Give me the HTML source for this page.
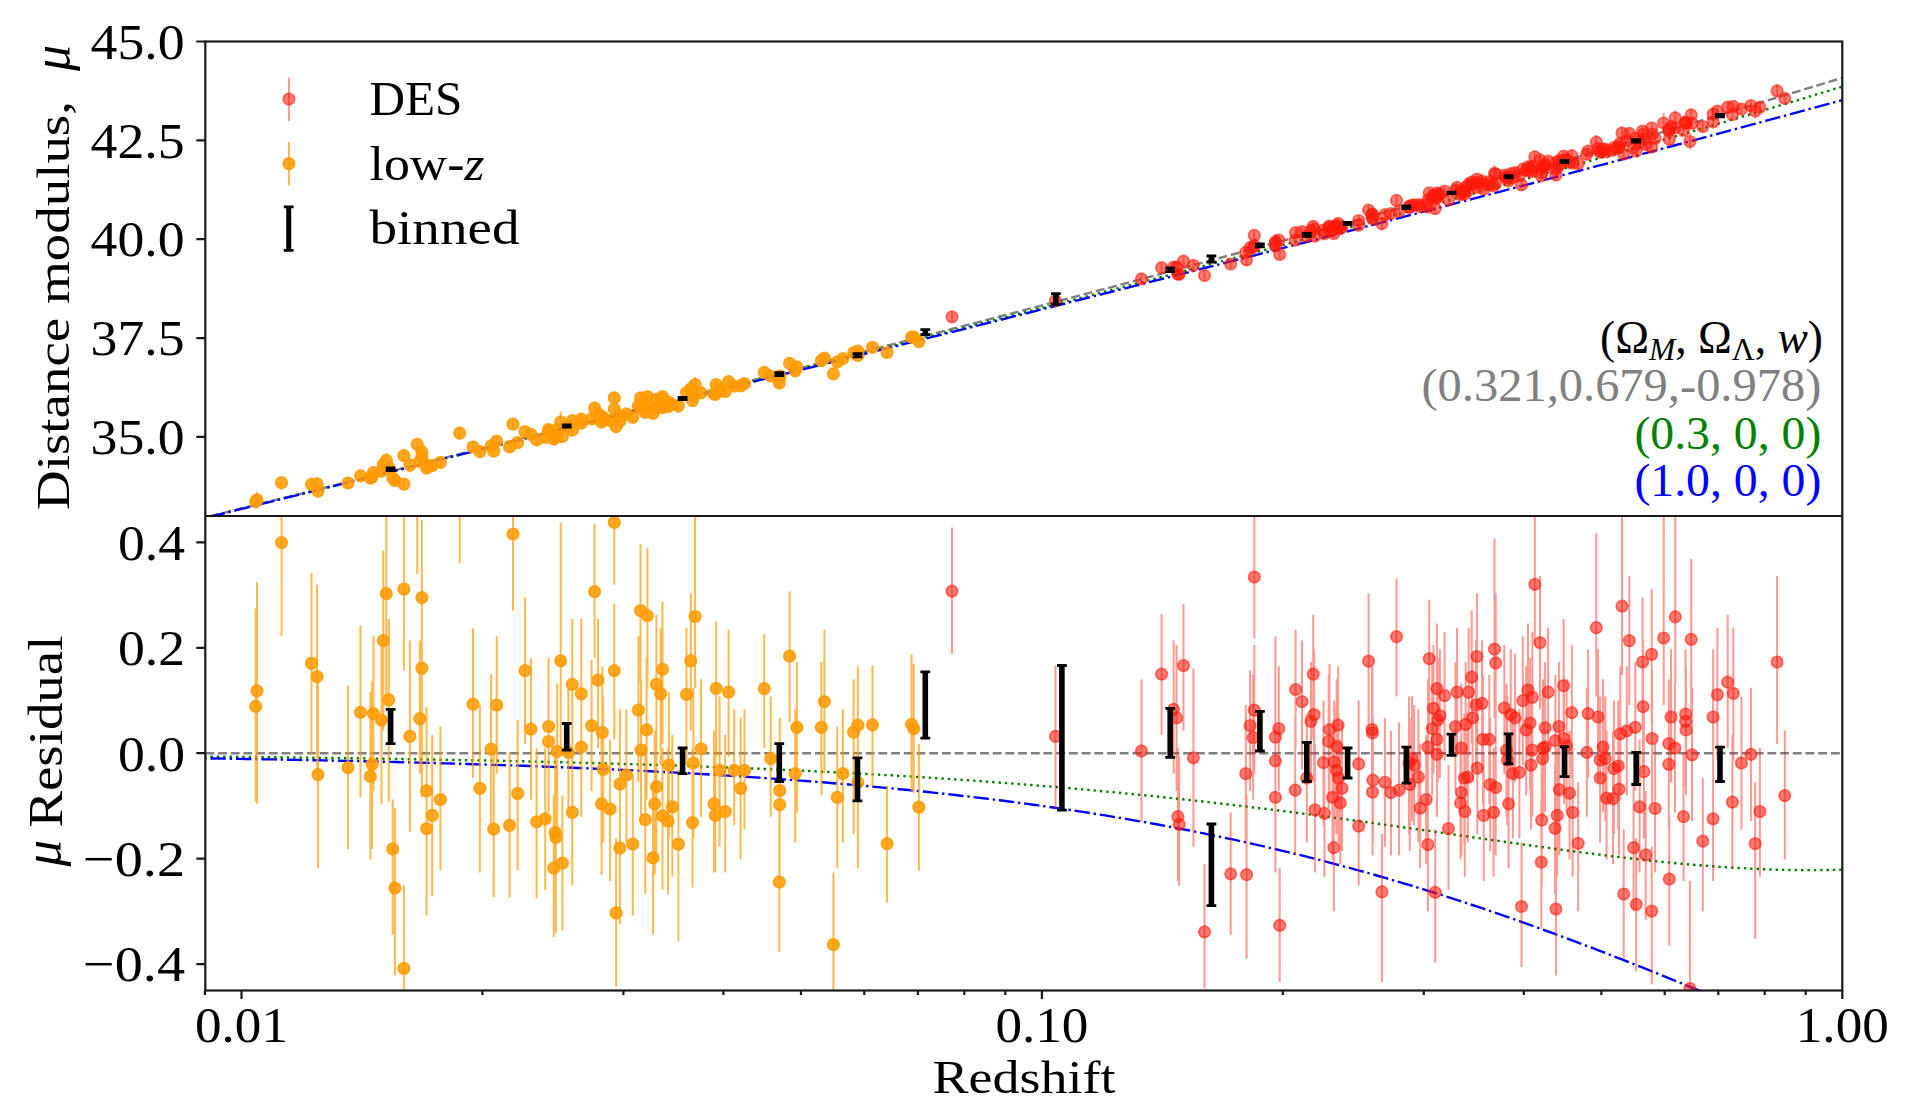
<!DOCTYPE html>
<html><head><meta charset="utf-8"><style>
html,body{margin:0;padding:0;background:#fff;width:1916px;height:1104px;overflow:hidden}
svg{display:block}
</style></head><body>
<svg width="1916" height="1104" viewBox="0 0 1916 1104">
<rect width="1916" height="1104" fill="#fff"/>
<defs><clipPath id="ct"><rect x="205.3" y="41.5" width="1637.0" height="474.5"/></clipPath><clipPath id="cb"><rect x="205.3" y="516.0" width="1637.0" height="474.5"/></clipPath></defs>
<g clip-path="url(#ct)">
<path d="M185.0,522.5 L190.5,521.1 L196.1,519.8 L201.6,518.4 L207.2,517.0 L212.7,515.6 L218.3,514.3 L223.8,512.9 L229.3,511.5 L234.9,510.1 L240.4,508.7 L246.0,507.4 L251.5,506.0 L257.1,504.6 L262.6,503.2 L268.1,501.8 L273.7,500.5 L279.2,499.1 L284.8,497.7 L290.3,496.3 L295.9,494.9 L301.4,493.6 L306.9,492.2 L312.5,490.8 L318.0,489.4 L323.6,488.0 L329.1,486.7 L334.7,485.3 L340.2,483.9 L345.7,482.5 L351.3,481.1 L356.8,479.7 L362.4,478.4 L367.9,477.0 L373.5,475.6 L379.0,474.2 L384.5,472.8 L390.1,471.4 L395.6,470.1 L401.2,468.7 L406.7,467.3 L412.3,465.9 L417.8,464.5 L423.3,463.1 L428.9,461.7 L434.4,460.4 L440.0,459.0 L445.5,457.6 L451.1,456.2 L456.6,454.8 L462.1,453.4 L467.7,452.0 L473.2,450.6 L478.8,449.3 L484.3,447.9 L489.9,446.5 L495.4,445.1 L500.9,443.7 L506.5,442.3 L512.0,440.9 L517.6,439.5 L523.1,438.1 L528.7,436.7 L534.2,435.3 L539.7,434.0 L545.3,432.6 L550.8,431.2 L556.4,429.8 L561.9,428.4 L567.5,427.0 L573.0,425.6 L578.5,424.2 L584.1,422.8 L589.6,421.4 L595.2,420.0 L600.7,418.6 L606.3,417.2 L611.8,415.8 L617.3,414.4 L622.9,413.0 L628.4,411.6 L634.0,410.2 L639.5,408.8 L645.1,407.4 L650.6,406.0 L656.1,404.6 L661.7,403.2 L667.2,401.8 L672.8,400.4 L678.3,399.0 L683.9,397.6 L689.4,396.2 L694.9,394.8 L700.5,393.4 L706.0,392.0 L711.6,390.6 L717.1,389.2 L722.7,387.8 L728.2,386.4 L733.7,385.0 L739.3,383.5 L744.8,382.1 L750.4,380.7 L755.9,379.3 L761.5,377.9 L767.0,376.5 L772.5,375.1 L778.1,373.7 L783.6,372.3 L789.2,370.8 L794.7,369.4 L800.3,368.0 L805.8,366.6 L811.3,365.2 L816.9,363.8 L822.4,362.3 L828.0,360.9 L833.5,359.5 L839.1,358.1 L844.6,356.6 L850.1,355.2 L855.7,353.8 L861.2,352.4 L866.8,351.0 L872.3,349.5 L877.9,348.1 L883.4,346.7 L888.9,345.2 L894.5,343.8 L900.0,342.4 L905.6,341.0 L911.1,339.5 L916.7,338.1 L922.2,336.7 L927.7,335.2 L933.3,333.8 L938.8,332.3 L944.4,330.9 L949.9,329.5 L955.5,328.0 L961.0,326.6 L966.5,325.1 L972.1,323.7 L977.6,322.3 L983.2,320.8 L988.7,319.4 L994.3,317.9 L999.8,316.5 L1005.3,315.0 L1010.9,313.6 L1016.4,312.1 L1022.0,310.7 L1027.5,309.2 L1033.1,307.8 L1038.6,306.3 L1044.1,304.8 L1049.7,303.4 L1055.2,301.9 L1060.8,300.5 L1066.3,299.0 L1071.9,297.5 L1077.4,296.1 L1082.9,294.6 L1088.5,293.1 L1094.0,291.7 L1099.6,290.2 L1105.1,288.7 L1110.7,287.3 L1116.2,285.8 L1121.7,284.3 L1127.3,282.8 L1132.8,281.4 L1138.4,279.9 L1143.9,278.4 L1149.5,276.9 L1155.0,275.4 L1160.5,273.9 L1166.1,272.4 L1171.6,271.0 L1177.2,269.5 L1182.7,268.0 L1188.3,266.5 L1193.8,265.0 L1199.3,263.5 L1204.9,262.0 L1210.4,260.5 L1216.0,259.0 L1221.5,257.5 L1227.1,256.0 L1232.6,254.5 L1238.1,253.0 L1243.7,251.5 L1249.2,249.9 L1254.8,248.4 L1260.3,246.9 L1265.9,245.4 L1271.4,243.9 L1276.9,242.4 L1282.5,240.8 L1288.0,239.3 L1293.6,237.8 L1299.1,236.3 L1304.6,234.7 L1310.2,233.2 L1315.7,231.7 L1321.3,230.1 L1326.8,228.6 L1332.4,227.1 L1337.9,225.5 L1343.4,224.0 L1349.0,222.4 L1354.5,220.9 L1360.1,219.3 L1365.6,217.8 L1371.2,216.2 L1376.7,214.7 L1382.2,213.1 L1387.8,211.6 L1393.3,210.0 L1398.9,208.5 L1404.4,206.9 L1410.0,205.3 L1415.5,203.8 L1421.0,202.2 L1426.6,200.6 L1432.1,199.0 L1437.7,197.5 L1443.2,195.9 L1448.8,194.3 L1454.3,192.7 L1459.8,191.1 L1465.4,189.6 L1470.9,188.0 L1476.5,186.4 L1482.0,184.8 L1487.6,183.2 L1493.1,181.6 L1498.6,180.0 L1504.2,178.4 L1509.7,176.8 L1515.3,175.2 L1520.8,173.6 L1526.4,172.0 L1531.9,170.4 L1537.4,168.8 L1543.0,167.2 L1548.5,165.6 L1554.1,163.9 L1559.6,162.3 L1565.2,160.7 L1570.7,159.1 L1576.2,157.5 L1581.8,155.8 L1587.3,154.2 L1592.9,152.6 L1598.4,150.9 L1604.0,149.3 L1609.5,147.7 L1615.0,146.0 L1620.6,144.4 L1626.1,142.8 L1631.7,141.1 L1637.2,139.5 L1642.8,137.8 L1648.3,136.2 L1653.8,134.6 L1659.4,132.9 L1664.9,131.3 L1670.5,129.6 L1676.0,128.0 L1681.6,126.3 L1687.1,124.6 L1692.6,123.0 L1698.2,121.3 L1703.7,119.7 L1709.3,118.0 L1714.8,116.3 L1720.4,114.7 L1725.9,113.0 L1731.4,111.4 L1737.0,109.7 L1742.5,108.0 L1748.1,106.4 L1753.6,104.7 L1759.2,103.0 L1764.7,101.3 L1770.2,99.7 L1775.8,98.0 L1781.3,96.3 L1786.9,94.7 L1792.4,93.0 L1798.0,91.3 L1803.5,89.6 L1809.0,87.9 L1814.6,86.3 L1820.1,84.6 L1825.7,82.9 L1831.2,81.2 L1836.8,79.5 L1842.3,77.9" stroke="#808080" stroke-width="2.4" fill="none" stroke-dasharray="8.9 3.8"/>
<path d="M185.0,522.8 L190.5,521.4 L196.1,520.0 L201.6,518.6 L207.2,517.3 L212.7,515.9 L218.3,514.5 L223.8,513.1 L229.3,511.8 L234.9,510.4 L240.4,509.0 L246.0,507.6 L251.5,506.3 L257.1,504.9 L262.6,503.5 L268.1,502.1 L273.7,500.8 L279.2,499.4 L284.8,498.0 L290.3,496.6 L295.9,495.3 L301.4,493.9 L306.9,492.5 L312.5,491.1 L318.0,489.8 L323.6,488.4 L329.1,487.0 L334.7,485.6 L340.2,484.2 L345.7,482.9 L351.3,481.5 L356.8,480.1 L362.4,478.7 L367.9,477.4 L373.5,476.0 L379.0,474.6 L384.5,473.2 L390.1,471.9 L395.6,470.5 L401.2,469.1 L406.7,467.7 L412.3,466.3 L417.8,465.0 L423.3,463.6 L428.9,462.2 L434.4,460.8 L440.0,459.4 L445.5,458.1 L451.1,456.7 L456.6,455.3 L462.1,453.9 L467.7,452.5 L473.2,451.2 L478.8,449.8 L484.3,448.4 L489.9,447.0 L495.4,445.6 L500.9,444.3 L506.5,442.9 L512.0,441.5 L517.6,440.1 L523.1,438.7 L528.7,437.4 L534.2,436.0 L539.7,434.6 L545.3,433.2 L550.8,431.8 L556.4,430.4 L561.9,429.1 L567.5,427.7 L573.0,426.3 L578.5,424.9 L584.1,423.5 L589.6,422.1 L595.2,420.8 L600.7,419.4 L606.3,418.0 L611.8,416.6 L617.3,415.2 L622.9,413.8 L628.4,412.4 L634.0,411.1 L639.5,409.7 L645.1,408.3 L650.6,406.9 L656.1,405.5 L661.7,404.1 L667.2,402.7 L672.8,401.3 L678.3,399.9 L683.9,398.6 L689.4,397.2 L694.9,395.8 L700.5,394.4 L706.0,393.0 L711.6,391.6 L717.1,390.2 L722.7,388.8 L728.2,387.4 L733.7,386.0 L739.3,384.6 L744.8,383.3 L750.4,381.9 L755.9,380.5 L761.5,379.1 L767.0,377.7 L772.5,376.3 L778.1,374.9 L783.6,373.5 L789.2,372.1 L794.7,370.7 L800.3,369.3 L805.8,367.9 L811.3,366.5 L816.9,365.1 L822.4,363.7 L828.0,362.3 L833.5,360.9 L839.1,359.5 L844.6,358.1 L850.1,356.7 L855.7,355.3 L861.2,353.9 L866.8,352.5 L872.3,351.1 L877.9,349.7 L883.4,348.3 L888.9,346.9 L894.5,345.5 L900.0,344.1 L905.6,342.7 L911.1,341.3 L916.7,339.9 L922.2,338.5 L927.7,337.0 L933.3,335.6 L938.8,334.2 L944.4,332.8 L949.9,331.4 L955.5,330.0 L961.0,328.6 L966.5,327.2 L972.1,325.8 L977.6,324.3 L983.2,322.9 L988.7,321.5 L994.3,320.1 L999.8,318.7 L1005.3,317.3 L1010.9,315.8 L1016.4,314.4 L1022.0,313.0 L1027.5,311.6 L1033.1,310.2 L1038.6,308.7 L1044.1,307.3 L1049.7,305.9 L1055.2,304.5 L1060.8,303.0 L1066.3,301.6 L1071.9,300.2 L1077.4,298.8 L1082.9,297.3 L1088.5,295.9 L1094.0,294.5 L1099.6,293.0 L1105.1,291.6 L1110.7,290.2 L1116.2,288.7 L1121.7,287.3 L1127.3,285.9 L1132.8,284.4 L1138.4,283.0 L1143.9,281.5 L1149.5,280.1 L1155.0,278.7 L1160.5,277.2 L1166.1,275.8 L1171.6,274.3 L1177.2,272.9 L1182.7,271.4 L1188.3,270.0 L1193.8,268.5 L1199.3,267.1 L1204.9,265.6 L1210.4,264.2 L1216.0,262.7 L1221.5,261.3 L1227.1,259.8 L1232.6,258.4 L1238.1,256.9 L1243.7,255.4 L1249.2,254.0 L1254.8,252.5 L1260.3,251.0 L1265.9,249.6 L1271.4,248.1 L1276.9,246.6 L1282.5,245.2 L1288.0,243.7 L1293.6,242.2 L1299.1,240.8 L1304.6,239.3 L1310.2,237.8 L1315.7,236.3 L1321.3,234.8 L1326.8,233.4 L1332.4,231.9 L1337.9,230.4 L1343.4,228.9 L1349.0,227.4 L1354.5,225.9 L1360.1,224.4 L1365.6,223.0 L1371.2,221.5 L1376.7,220.0 L1382.2,218.5 L1387.8,217.0 L1393.3,215.5 L1398.9,214.0 L1404.4,212.5 L1410.0,210.9 L1415.5,209.4 L1421.0,207.9 L1426.6,206.4 L1432.1,204.9 L1437.7,203.4 L1443.2,201.9 L1448.8,200.4 L1454.3,198.8 L1459.8,197.3 L1465.4,195.8 L1470.9,194.3 L1476.5,192.7 L1482.0,191.2 L1487.6,189.7 L1493.1,188.1 L1498.6,186.6 L1504.2,185.1 L1509.7,183.5 L1515.3,182.0 L1520.8,180.4 L1526.4,178.9 L1531.9,177.3 L1537.4,175.8 L1543.0,174.2 L1548.5,172.7 L1554.1,171.1 L1559.6,169.5 L1565.2,168.0 L1570.7,166.4 L1576.2,164.8 L1581.8,163.3 L1587.3,161.7 L1592.9,160.1 L1598.4,158.5 L1604.0,157.0 L1609.5,155.4 L1615.0,153.8 L1620.6,152.2 L1626.1,150.6 L1631.7,149.0 L1637.2,147.4 L1642.8,145.8 L1648.3,144.2 L1653.8,142.6 L1659.4,141.0 L1664.9,139.4 L1670.5,137.8 L1676.0,136.2 L1681.6,134.6 L1687.1,133.0 L1692.6,131.3 L1698.2,129.7 L1703.7,128.1 L1709.3,126.5 L1714.8,124.8 L1720.4,123.2 L1725.9,121.6 L1731.4,119.9 L1737.0,118.3 L1742.5,116.6 L1748.1,115.0 L1753.6,113.4 L1759.2,111.7 L1764.7,110.0 L1770.2,108.4 L1775.8,106.7 L1781.3,105.1 L1786.9,103.4 L1792.4,101.7 L1798.0,100.1 L1803.5,98.4 L1809.0,96.7 L1814.6,95.0 L1820.1,93.3 L1825.7,91.7 L1831.2,90.0 L1836.8,88.3 L1842.3,86.6" stroke="#008000" stroke-width="2.4" fill="none" stroke-dasharray="2.4 3.96"/>
<path d="M185.0,522.9 L190.5,521.5 L196.1,520.1 L201.6,518.8 L207.2,517.4 L212.7,516.0 L218.3,514.7 L223.8,513.3 L229.3,511.9 L234.9,510.5 L240.4,509.2 L246.0,507.8 L251.5,506.4 L257.1,505.0 L262.6,503.7 L268.1,502.3 L273.7,500.9 L279.2,499.6 L284.8,498.2 L290.3,496.8 L295.9,495.4 L301.4,494.1 L306.9,492.7 L312.5,491.3 L318.0,489.9 L323.6,488.6 L329.1,487.2 L334.7,485.8 L340.2,484.4 L345.7,483.1 L351.3,481.7 L356.8,480.3 L362.4,479.0 L367.9,477.6 L373.5,476.2 L379.0,474.8 L384.5,473.5 L390.1,472.1 L395.6,470.7 L401.2,469.3 L406.7,468.0 L412.3,466.6 L417.8,465.2 L423.3,463.8 L428.9,462.5 L434.4,461.1 L440.0,459.7 L445.5,458.3 L451.1,457.0 L456.6,455.6 L462.1,454.2 L467.7,452.8 L473.2,451.5 L478.8,450.1 L484.3,448.7 L489.9,447.3 L495.4,446.0 L500.9,444.6 L506.5,443.2 L512.0,441.8 L517.6,440.5 L523.1,439.1 L528.7,437.7 L534.2,436.3 L539.7,434.9 L545.3,433.6 L550.8,432.2 L556.4,430.8 L561.9,429.4 L567.5,428.1 L573.0,426.7 L578.5,425.3 L584.1,423.9 L589.6,422.5 L595.2,421.2 L600.7,419.8 L606.3,418.4 L611.8,417.0 L617.3,415.7 L622.9,414.3 L628.4,412.9 L634.0,411.5 L639.5,410.1 L645.1,408.8 L650.6,407.4 L656.1,406.0 L661.7,404.6 L667.2,403.2 L672.8,401.9 L678.3,400.5 L683.9,399.1 L689.4,397.7 L694.9,396.3 L700.5,395.0 L706.0,393.6 L711.6,392.2 L717.1,390.8 L722.7,389.4 L728.2,388.0 L733.7,386.7 L739.3,385.3 L744.8,383.9 L750.4,382.5 L755.9,381.1 L761.5,379.7 L767.0,378.4 L772.5,377.0 L778.1,375.6 L783.6,374.2 L789.2,372.8 L794.7,371.4 L800.3,370.1 L805.8,368.7 L811.3,367.3 L816.9,365.9 L822.4,364.5 L828.0,363.1 L833.5,361.7 L839.1,360.4 L844.6,359.0 L850.1,357.6 L855.7,356.2 L861.2,354.8 L866.8,353.4 L872.3,352.0 L877.9,350.6 L883.4,349.2 L888.9,347.9 L894.5,346.5 L900.0,345.1 L905.6,343.7 L911.1,342.3 L916.7,340.9 L922.2,339.5 L927.7,338.1 L933.3,336.7 L938.8,335.3 L944.4,333.9 L949.9,332.6 L955.5,331.2 L961.0,329.8 L966.5,328.4 L972.1,327.0 L977.6,325.6 L983.2,324.2 L988.7,322.8 L994.3,321.4 L999.8,320.0 L1005.3,318.6 L1010.9,317.2 L1016.4,315.8 L1022.0,314.4 L1027.5,313.0 L1033.1,311.6 L1038.6,310.2 L1044.1,308.8 L1049.7,307.4 L1055.2,306.0 L1060.8,304.6 L1066.3,303.2 L1071.9,301.8 L1077.4,300.4 L1082.9,299.0 L1088.5,297.6 L1094.0,296.2 L1099.6,294.8 L1105.1,293.4 L1110.7,292.0 L1116.2,290.6 L1121.7,289.2 L1127.3,287.8 L1132.8,286.4 L1138.4,285.0 L1143.9,283.5 L1149.5,282.1 L1155.0,280.7 L1160.5,279.3 L1166.1,277.9 L1171.6,276.5 L1177.2,275.1 L1182.7,273.7 L1188.3,272.3 L1193.8,270.9 L1199.3,269.4 L1204.9,268.0 L1210.4,266.6 L1216.0,265.2 L1221.5,263.8 L1227.1,262.4 L1232.6,260.9 L1238.1,259.5 L1243.7,258.1 L1249.2,256.7 L1254.8,255.3 L1260.3,253.8 L1265.9,252.4 L1271.4,251.0 L1276.9,249.6 L1282.5,248.2 L1288.0,246.7 L1293.6,245.3 L1299.1,243.9 L1304.6,242.5 L1310.2,241.0 L1315.7,239.6 L1321.3,238.2 L1326.8,236.7 L1332.4,235.3 L1337.9,233.9 L1343.4,232.5 L1349.0,231.0 L1354.5,229.6 L1360.1,228.2 L1365.6,226.7 L1371.2,225.3 L1376.7,223.9 L1382.2,222.4 L1387.8,221.0 L1393.3,219.5 L1398.9,218.1 L1404.4,216.7 L1410.0,215.2 L1415.5,213.8 L1421.0,212.3 L1426.6,210.9 L1432.1,209.5 L1437.7,208.0 L1443.2,206.6 L1448.8,205.1 L1454.3,203.7 L1459.8,202.2 L1465.4,200.8 L1470.9,199.3 L1476.5,197.9 L1482.0,196.4 L1487.6,195.0 L1493.1,193.5 L1498.6,192.1 L1504.2,190.6 L1509.7,189.1 L1515.3,187.7 L1520.8,186.2 L1526.4,184.8 L1531.9,183.3 L1537.4,181.9 L1543.0,180.4 L1548.5,178.9 L1554.1,177.5 L1559.6,176.0 L1565.2,174.5 L1570.7,173.1 L1576.2,171.6 L1581.8,170.1 L1587.3,168.7 L1592.9,167.2 L1598.4,165.7 L1604.0,164.3 L1609.5,162.8 L1615.0,161.3 L1620.6,159.8 L1626.1,158.4 L1631.7,156.9 L1637.2,155.4 L1642.8,153.9 L1648.3,152.4 L1653.8,151.0 L1659.4,149.5 L1664.9,148.0 L1670.5,146.5 L1676.0,145.0 L1681.6,143.6 L1687.1,142.1 L1692.6,140.6 L1698.2,139.1 L1703.7,137.6 L1709.3,136.1 L1714.8,134.6 L1720.4,133.1 L1725.9,131.6 L1731.4,130.1 L1737.0,128.7 L1742.5,127.2 L1748.1,125.7 L1753.6,124.2 L1759.2,122.7 L1764.7,121.2 L1770.2,119.7 L1775.8,118.2 L1781.3,116.7 L1786.9,115.2 L1792.4,113.7 L1798.0,112.2 L1803.5,110.7 L1809.0,109.2 L1814.6,107.6 L1820.1,106.1 L1825.7,104.6 L1831.2,103.1 L1836.8,101.6 L1842.3,100.1" stroke="#0000ff" stroke-width="2.4" fill="none" stroke-dasharray="15.4 3.84 2.4 3.84"/>
<path d="M281.5,480.7V489.8M257.0,491.8V508.4M255.7,494.1V508.6M311.5,477.5V491.1M317.1,477.0V491.2M318.0,484.0V498.1M348.0,476.9V489.1M360.5,469.2V482.1M373.4,466.8V478.4M372.1,470.5V483.1M370.4,471.8V484.3M381.5,465.1V477.4M383.3,457.9V471.5M386.3,453.0V468.4M388.8,461.7V475.4M392.7,474.2V484.4M394.9,474.4V486.9M403.9,477.9V490.5M403.9,449.6V461.8M421.9,446.0V458.6M421.9,455.0V466.8M419.8,455.6V465.6M409.9,458.0V472.4M426.6,458.8V471.4M432.2,459.5V471.6M426.6,461.9V474.5M440.4,456.9V467.6M473.0,441.3V452.5M479.9,445.3V457.9M491.1,440.2V452.2M496.7,436.0V446.3M493.7,445.1V456.3M509.6,441.5V452.3M517.7,437.0V448.3M513.0,418.0V430.0M459.7,426.6V439.8M417.2,438.8V451.2M525.0,426.0V436.9M614.3,392.6V402.5M594.6,402.9V413.0M560.7,411.4V428.3M531.0,429.0V439.6M548.6,424.6V434.5M548.6,425.5V436.2M572.3,415.7V426.0M581.3,413.4V424.7M598.0,409.2V418.9M591.6,413.9V423.7M614.3,404.0V414.1M602.3,411.7V422.6M581.3,418.0V428.3M557.2,424.3V435.3M568.4,421.8V431.2M536.6,434.3V445.6M545.2,432.2V442.8M555.1,430.4V441.3M555.9,430.8V443.3M553.8,433.6V444.2M562.4,431.4V441.6M572.3,424.7V435.7M603.2,413.7V424.7M601.5,417.1V427.5M610.1,415.2V425.9M619.9,410.5V421.7M626.4,408.8V418.8M619.9,415.3V426.6M616.1,421.1V432.2M632.8,412.1V422.7M638.4,400.3V411.3M640.5,392.9V403.3M647.4,391.5V401.9M646.6,399.9V410.5M641.0,402.9V413.9M656.4,394.2V404.8M660.7,394.0V404.4M662.5,391.7V402.3M656.4,401.6V412.5M654.7,403.3V414.1M645.3,406.7V417.9M662.5,402.6V413.3M668.0,401.2V412.2M672.3,399.2V409.8M653.0,407.6V419.0M678.4,400.2V413.1M668.9,396.8V407.8M686.5,387.5V397.8M690.8,383.9V394.2M695.1,377.0V389.9M693.4,390.3V401.6M701.1,387.7V398.0M692.5,395.0V405.5M716.2,379.5V389.7M728.6,377.0V386.5M719.6,384.3V395.6M714.0,388.3V398.9M715.3,388.6V398.6M725.2,385.8V396.1M734.2,381.5V390.2M744.5,378.9V387.9M740.6,380.6V391.2M764.3,368.3V376.8M770.7,371.3V380.3M789.6,358.6V368.4M796.9,362.0V373.3M795.2,366.0V376.0M779.7,370.6V381.9M779.7,371.9V382.8M779.3,377.5V388.3M824.4,352.6V363.4M821.4,355.8V365.7M837.3,356.5V367.1M833.4,368.5V378.8M842.9,353.8V363.8M857.9,346.7V361.9M853.6,348.8V360.4M872.5,342.9V352.0M911.6,332.0V342.2M913.7,332.2V341.8M918.9,336.8V346.3M887.1,348.2V356.9M857.9,348.8V361.9" stroke="#ff9a00" stroke-opacity="0.7" stroke-width="2.0" fill="none"/>
<g fill="#ff9a00" fill-opacity="0.85" stroke="#ff9a00" stroke-opacity="0.85" stroke-width="1.6"><circle cx="281.5" cy="482.7" r="5.8"/><circle cx="257.0" cy="499.9" r="5.8"/><circle cx="255.7" cy="501.4" r="5.8"/><circle cx="311.5" cy="484.3" r="5.8"/><circle cx="317.1" cy="483.9" r="5.8"/><circle cx="318.0" cy="491.0" r="5.8"/><circle cx="348.0" cy="483.0" r="5.8"/><circle cx="360.5" cy="475.8" r="5.8"/><circle cx="373.4" cy="472.6" r="5.8"/><circle cx="372.1" cy="476.8" r="5.8"/><circle cx="370.4" cy="478.1" r="5.8"/><circle cx="381.5" cy="471.1" r="5.8"/><circle cx="383.3" cy="464.7" r="5.8"/><circle cx="386.3" cy="460.4" r="5.8"/><circle cx="388.8" cy="467.7" r="5.8"/><circle cx="392.7" cy="478.0" r="5.8"/><circle cx="394.9" cy="480.3" r="5.8"/><circle cx="403.9" cy="484.1" r="5.8"/><circle cx="403.9" cy="455.7" r="5.8"/><circle cx="421.9" cy="451.8" r="5.8"/><circle cx="421.9" cy="457.1" r="5.8"/><circle cx="419.8" cy="461.4" r="5.8"/><circle cx="409.9" cy="465.2" r="5.8"/><circle cx="426.6" cy="465.1" r="5.8"/><circle cx="432.2" cy="465.6" r="5.8"/><circle cx="426.6" cy="468.0" r="5.8"/><circle cx="440.4" cy="462.3" r="5.8"/><circle cx="473.0" cy="447.0" r="5.8"/><circle cx="479.9" cy="451.6" r="5.8"/><circle cx="491.1" cy="445.9" r="5.8"/><circle cx="496.7" cy="441.1" r="5.8"/><circle cx="493.7" cy="451.2" r="5.8"/><circle cx="509.6" cy="446.9" r="5.8"/><circle cx="517.7" cy="442.5" r="5.8"/><circle cx="513.0" cy="424.2" r="5.8"/><circle cx="459.7" cy="433.0" r="5.8"/><circle cx="417.2" cy="444.3" r="5.8"/><circle cx="525.0" cy="431.5" r="5.8"/><circle cx="614.3" cy="397.9" r="5.8"/><circle cx="594.6" cy="408.0" r="5.8"/><circle cx="560.7" cy="421.8" r="5.8"/><circle cx="531.0" cy="434.3" r="5.8"/><circle cx="548.6" cy="429.7" r="5.8"/><circle cx="548.6" cy="430.8" r="5.8"/><circle cx="572.3" cy="420.6" r="5.8"/><circle cx="581.3" cy="419.1" r="5.8"/><circle cx="598.0" cy="413.8" r="5.8"/><circle cx="591.6" cy="418.8" r="5.8"/><circle cx="614.3" cy="409.0" r="5.8"/><circle cx="602.3" cy="416.7" r="5.8"/><circle cx="581.3" cy="423.1" r="5.8"/><circle cx="557.2" cy="429.4" r="5.8"/><circle cx="568.4" cy="426.7" r="5.8"/><circle cx="536.6" cy="439.9" r="5.8"/><circle cx="545.2" cy="437.5" r="5.8"/><circle cx="555.1" cy="436.1" r="5.8"/><circle cx="555.9" cy="436.2" r="5.8"/><circle cx="553.8" cy="439.1" r="5.8"/><circle cx="562.4" cy="436.5" r="5.8"/><circle cx="572.3" cy="430.2" r="5.8"/><circle cx="603.2" cy="419.2" r="5.8"/><circle cx="601.5" cy="422.2" r="5.8"/><circle cx="610.1" cy="420.4" r="5.8"/><circle cx="619.9" cy="416.1" r="5.8"/><circle cx="626.4" cy="413.8" r="5.8"/><circle cx="619.9" cy="420.9" r="5.8"/><circle cx="616.1" cy="426.7" r="5.8"/><circle cx="632.8" cy="417.3" r="5.8"/><circle cx="638.4" cy="405.9" r="5.8"/><circle cx="640.5" cy="397.9" r="5.8"/><circle cx="647.4" cy="396.5" r="5.8"/><circle cx="646.6" cy="405.3" r="5.8"/><circle cx="641.0" cy="408.2" r="5.8"/><circle cx="656.4" cy="399.4" r="5.8"/><circle cx="660.7" cy="399.0" r="5.8"/><circle cx="662.5" cy="396.7" r="5.8"/><circle cx="656.4" cy="407.1" r="5.8"/><circle cx="654.7" cy="408.8" r="5.8"/><circle cx="645.3" cy="412.4" r="5.8"/><circle cx="662.5" cy="407.7" r="5.8"/><circle cx="668.0" cy="406.7" r="5.8"/><circle cx="672.3" cy="404.5" r="5.8"/><circle cx="653.0" cy="413.3" r="5.8"/><circle cx="678.4" cy="405.8" r="5.8"/><circle cx="668.9" cy="402.3" r="5.8"/><circle cx="686.5" cy="392.5" r="5.8"/><circle cx="690.8" cy="388.9" r="5.8"/><circle cx="695.1" cy="384.5" r="5.8"/><circle cx="693.4" cy="395.9" r="5.8"/><circle cx="701.1" cy="392.9" r="5.8"/><circle cx="692.5" cy="400.6" r="5.8"/><circle cx="716.2" cy="384.5" r="5.8"/><circle cx="728.6" cy="381.7" r="5.8"/><circle cx="719.6" cy="389.8" r="5.8"/><circle cx="714.0" cy="393.8" r="5.8"/><circle cx="715.3" cy="394.3" r="5.8"/><circle cx="725.2" cy="391.5" r="5.8"/><circle cx="734.2" cy="386.1" r="5.8"/><circle cx="744.5" cy="383.5" r="5.8"/><circle cx="740.6" cy="385.8" r="5.8"/><circle cx="764.3" cy="372.3" r="5.8"/><circle cx="770.7" cy="376.0" r="5.8"/><circle cx="789.6" cy="363.4" r="5.8"/><circle cx="796.9" cy="366.9" r="5.8"/><circle cx="795.2" cy="370.8" r="5.8"/><circle cx="779.7" cy="376.0" r="5.8"/><circle cx="779.7" cy="377.1" r="5.8"/><circle cx="779.3" cy="383.0" r="5.8"/><circle cx="824.4" cy="358.0" r="5.8"/><circle cx="821.4" cy="360.7" r="5.8"/><circle cx="837.3" cy="361.8" r="5.8"/><circle cx="833.4" cy="373.9" r="5.8"/><circle cx="842.9" cy="358.6" r="5.8"/><circle cx="857.9" cy="351.1" r="5.8"/><circle cx="853.6" cy="352.8" r="5.8"/><circle cx="872.5" cy="347.3" r="5.8"/><circle cx="911.6" cy="337.2" r="5.8"/><circle cx="913.7" cy="337.0" r="5.8"/><circle cx="918.9" cy="341.6" r="5.8"/><circle cx="887.1" cy="352.5" r="5.8"/><circle cx="857.9" cy="355.4" r="5.8"/></g>

<path d="M952.0,312.0V321.5M1055.5,295.3V306.0M1141.4,273.5V284.2M1161.6,263.2V272.3M1183.5,256.6V266.1M1173.6,262.0V272.0M1176.6,261.5V272.4M1193.4,258.8V272.1M1177.9,268.9V278.9M1179.2,269.2V278.8M1204.5,270.4V279.7M1230.7,259.4V268.6M1246.6,253.8V266.0M1254.3,230.8V239.9M1254.3,240.4V250.1M1250.1,243.5V252.5M1253.1,243.0V252.4M1245.8,247.3V257.6M1279.7,250.2V258.8M1275.4,234.0V248.2M1278.8,235.3V244.7M1275.4,238.5V248.2M1275.4,240.5V251.7M1295.2,234.7V245.0M1295.6,228.0V236.8M1302.0,227.0V236.7M1313.2,222.0V231.3M1311.0,226.1V235.1M1314.1,224.3V234.3M1306.8,231.2V240.8M1314.9,231.2V240.8M1324.4,228.9V238.6M1323.5,225.6V234.9M1328.7,222.2V232.2M1329.5,221.2V231.0M1338.1,218.9V228.3M1336.8,220.3V230.6M1334.2,222.6V231.9M1336.4,222.6V232.0M1338.5,222.4V232.0M1342.0,222.1V231.7M1332.5,225.7V235.0M1340.3,223.8V233.2M1333.8,228.8V238.5M1358.7,215.8V225.4M1358.7,220.3V229.6M1368.6,205.0V215.3M1372.5,209.4V219.3M1372.0,209.5V218.8M1372.9,213.1V222.4M1372.5,214.2V223.5M1381.9,219.3V230.4M1384.9,209.7V219.4M1390.9,209.0V218.3M1399.1,206.1V216.0M1396.5,196.0V204.9M1409.0,201.3V211.6M1412.0,200.5V209.8M1414.1,200.5V209.5M1409.8,202.7V212.7M1418.4,199.6V209.6M1426.2,199.4V209.0M1420.2,201.7V211.1M1427.9,202.4V212.1M1429.2,188.4V197.6M1427.9,194.7V204.7M1432.2,192.2V202.2M1433.5,190.5V200.2M1436.9,187.9V197.9M1439.9,189.0V198.7M1437.8,190.3V199.6M1436.9,192.5V201.5M1436.9,192.8V202.4M1444.6,186.4V196.1M1448.5,195.3V204.6M1435.2,203.9V213.9M1457.1,182.5V192.2M1455.4,185.6V195.3M1461.4,185.5V195.5M1464.4,186.9V196.5M1467.8,185.9V195.6M1461.4,189.0V198.4M1460.5,189.9V198.9M1464.8,189.3V199.0M1468.7,179.2V188.9M1471.7,177.1V187.0M1472.6,180.0V189.7M1465.7,182.6V192.3M1476.0,178.1V187.7M1476.9,174.3V183.9M1482.0,176.3V186.0M1477.3,182.5V192.2M1482.9,178.7V188.3M1483.7,184.2V193.9M1494.5,165.1V178.6M1495.7,168.9V179.2M1489.3,176.8V186.5M1504.3,170.2V179.9M1510.8,168.7V178.4M1515.1,167.8V177.5M1506.5,172.5V182.5M1507.3,173.2V182.9M1512.9,172.6V182.3M1519.4,170.7V180.4M1508.6,176.1V185.8M1493.6,181.1V190.7M1490.2,179.8V189.8M1495.7,178.5V188.5M1522.8,164.3V173.9M1528.0,161.8V171.8M1532.3,161.2V170.9M1530.1,163.8V173.7M1526.2,165.5V175.2M1532.3,165.1V175.0M1531.0,166.7V176.4M1534.8,151.7V161.4M1540.0,154.8V164.7M1548.1,156.3V165.9M1545.1,159.7V169.4M1543.0,161.6V171.9M1545.1,161.0V171.0M1542.6,163.0V172.4M1541.7,167.8V177.5M1541.3,171.1V180.8M1521.5,180.1V189.4M1555.9,170.4V180.1M1555.0,164.6V174.2M1557.2,162.6V172.3M1559.3,160.1V170.1M1558.9,155.7V165.4M1555.4,157.7V167.3M1564.0,155.2V164.8M1566.6,154.7V164.7M1563.6,151.1V161.1M1571.8,150.6V160.6M1569.6,157.7V167.4M1572.6,158.1V167.8M1578.2,159.1V168.7M1586.8,149.5V159.1M1588.1,146.2V155.8M1596.3,135.1V147.3M1598.0,143.3V153.3M1603.1,144.0V154.0M1600.1,146.2V155.9M1605.3,144.7V154.0M1600.1,147.5V157.1M1606.6,146.9V156.5M1613.0,145.0V155.0M1613.9,142.5V152.4M1618.2,141.2V150.9M1619.0,142.5V152.5M1620.3,138.0V148.0M1626.8,136.1V145.7M1635.3,133.2V142.9M1622.0,126.2V138.1M1629.3,128.5V138.2M1642.6,126.2V135.9M1643.1,129.3V139.3M1651.7,122.9V132.9M1652.1,128.9V138.9M1643.9,133.9V143.9M1639.6,137.7V147.7M1633.6,142.7V152.4M1645.7,139.8V149.5M1655.1,133.5V143.1M1623.7,149.2V158.9M1636.2,146.2V156.1M1651.7,142.2V152.5M1663.7,112.9V128.0M1675.3,110.4V122.9M1691.2,108.9V120.1M1671.0,121.6V131.6M1668.8,124.5V134.2M1674.9,123.1V132.7M1668.8,126.2V135.8M1685.6,117.3V127.0M1685.6,117.9V127.6M1686.0,118.4V128.1M1692.0,118.3V128.2M1683.5,125.7V135.3M1669.3,134.7V144.4M1702.8,121.8V131.8M1713.1,117.1V126.5M1713.1,109.1V119.0M1717.4,106.2V116.1M1727.7,102.1V112.1M1733.3,101.4V111.4M1741.4,104.1V114.1M1732.4,109.7V119.7M1750.9,100.6V110.6M1759.9,102.4V112.1M1755.2,106.4V118.2M1777.1,84.3V96.9M1784.8,93.6V103.2M1689.9,133.4V149.5" stroke="#ff1a0a" stroke-opacity="0.45" stroke-width="2.0" fill="none"/>
<g fill="#ff1a0a" fill-opacity="0.58" stroke="#ff1a0a" stroke-opacity="0.58" stroke-width="1.6"><circle cx="952.0" cy="316.8" r="5.8"/><circle cx="1055.5" cy="300.6" r="5.8"/><circle cx="1141.4" cy="278.9" r="5.8"/><circle cx="1161.6" cy="267.7" r="5.8"/><circle cx="1183.5" cy="261.2" r="5.8"/><circle cx="1173.6" cy="267.1" r="5.8"/><circle cx="1176.6" cy="267.0" r="5.8"/><circle cx="1193.4" cy="265.5" r="5.8"/><circle cx="1177.9" cy="274.0" r="5.8"/><circle cx="1179.2" cy="274.3" r="5.8"/><circle cx="1204.5" cy="275.5" r="5.8"/><circle cx="1230.7" cy="264.0" r="5.8"/><circle cx="1246.6" cy="259.8" r="5.8"/><circle cx="1254.3" cy="235.3" r="5.8"/><circle cx="1254.3" cy="245.3" r="5.8"/><circle cx="1250.1" cy="247.6" r="5.8"/><circle cx="1253.1" cy="247.7" r="5.8"/><circle cx="1245.8" cy="252.4" r="5.8"/><circle cx="1279.7" cy="254.5" r="5.8"/><circle cx="1275.4" cy="241.6" r="5.8"/><circle cx="1278.8" cy="240.0" r="5.8"/><circle cx="1275.4" cy="243.4" r="5.8"/><circle cx="1275.4" cy="246.1" r="5.8"/><circle cx="1295.2" cy="240.1" r="5.8"/><circle cx="1295.6" cy="232.5" r="5.8"/><circle cx="1302.0" cy="231.6" r="5.8"/><circle cx="1313.2" cy="226.4" r="5.8"/><circle cx="1311.0" cy="230.6" r="5.8"/><circle cx="1314.1" cy="229.2" r="5.8"/><circle cx="1306.8" cy="236.0" r="5.8"/><circle cx="1314.9" cy="236.1" r="5.8"/><circle cx="1324.4" cy="233.8" r="5.8"/><circle cx="1323.5" cy="230.2" r="5.8"/><circle cx="1328.7" cy="227.2" r="5.8"/><circle cx="1329.5" cy="226.1" r="5.8"/><circle cx="1338.1" cy="223.4" r="5.8"/><circle cx="1336.8" cy="225.3" r="5.8"/><circle cx="1334.2" cy="227.2" r="5.8"/><circle cx="1336.4" cy="227.2" r="5.8"/><circle cx="1338.5" cy="227.2" r="5.8"/><circle cx="1342.0" cy="227.0" r="5.8"/><circle cx="1332.5" cy="230.3" r="5.8"/><circle cx="1340.3" cy="228.6" r="5.8"/><circle cx="1333.8" cy="233.7" r="5.8"/><circle cx="1358.7" cy="220.5" r="5.8"/><circle cx="1358.7" cy="225.2" r="5.8"/><circle cx="1368.6" cy="210.1" r="5.8"/><circle cx="1372.5" cy="214.3" r="5.8"/><circle cx="1372.0" cy="214.2" r="5.8"/><circle cx="1372.9" cy="217.8" r="5.8"/><circle cx="1372.5" cy="218.8" r="5.8"/><circle cx="1381.9" cy="223.6" r="5.8"/><circle cx="1384.9" cy="214.6" r="5.8"/><circle cx="1390.9" cy="213.6" r="5.8"/><circle cx="1399.1" cy="211.1" r="5.8"/><circle cx="1396.5" cy="200.4" r="5.8"/><circle cx="1409.0" cy="206.3" r="5.8"/><circle cx="1412.0" cy="205.2" r="5.8"/><circle cx="1414.1" cy="205.0" r="5.8"/><circle cx="1409.8" cy="207.7" r="5.8"/><circle cx="1418.4" cy="204.7" r="5.8"/><circle cx="1426.2" cy="204.2" r="5.8"/><circle cx="1420.2" cy="206.6" r="5.8"/><circle cx="1427.9" cy="207.1" r="5.8"/><circle cx="1429.2" cy="192.8" r="5.8"/><circle cx="1427.9" cy="199.8" r="5.8"/><circle cx="1432.2" cy="197.2" r="5.8"/><circle cx="1433.5" cy="195.3" r="5.8"/><circle cx="1436.9" cy="192.8" r="5.8"/><circle cx="1439.9" cy="194.0" r="5.8"/><circle cx="1437.8" cy="195.0" r="5.8"/><circle cx="1436.9" cy="196.6" r="5.8"/><circle cx="1436.9" cy="197.8" r="5.8"/><circle cx="1444.6" cy="191.2" r="5.8"/><circle cx="1448.5" cy="200.0" r="5.8"/><circle cx="1435.2" cy="208.6" r="5.8"/><circle cx="1457.1" cy="187.4" r="5.8"/><circle cx="1455.4" cy="190.4" r="5.8"/><circle cx="1461.4" cy="190.3" r="5.8"/><circle cx="1464.4" cy="191.7" r="5.8"/><circle cx="1467.8" cy="190.7" r="5.8"/><circle cx="1461.4" cy="193.7" r="5.8"/><circle cx="1460.5" cy="194.7" r="5.8"/><circle cx="1464.8" cy="194.1" r="5.8"/><circle cx="1468.7" cy="184.0" r="5.8"/><circle cx="1471.7" cy="182.0" r="5.8"/><circle cx="1472.6" cy="184.9" r="5.8"/><circle cx="1465.7" cy="187.3" r="5.8"/><circle cx="1476.0" cy="182.9" r="5.8"/><circle cx="1476.9" cy="179.0" r="5.8"/><circle cx="1482.0" cy="181.1" r="5.8"/><circle cx="1477.3" cy="187.3" r="5.8"/><circle cx="1482.9" cy="183.5" r="5.8"/><circle cx="1483.7" cy="189.0" r="5.8"/><circle cx="1494.5" cy="173.4" r="5.8"/><circle cx="1495.7" cy="174.1" r="5.8"/><circle cx="1489.3" cy="181.7" r="5.8"/><circle cx="1504.3" cy="175.0" r="5.8"/><circle cx="1510.8" cy="173.6" r="5.8"/><circle cx="1515.1" cy="172.6" r="5.8"/><circle cx="1506.5" cy="177.5" r="5.8"/><circle cx="1507.3" cy="178.0" r="5.8"/><circle cx="1512.9" cy="177.4" r="5.8"/><circle cx="1519.4" cy="175.5" r="5.8"/><circle cx="1508.6" cy="180.9" r="5.8"/><circle cx="1493.6" cy="185.9" r="5.8"/><circle cx="1490.2" cy="184.8" r="5.8"/><circle cx="1495.7" cy="183.4" r="5.8"/><circle cx="1522.8" cy="169.1" r="5.8"/><circle cx="1528.0" cy="166.8" r="5.8"/><circle cx="1532.3" cy="166.1" r="5.8"/><circle cx="1530.1" cy="168.6" r="5.8"/><circle cx="1526.2" cy="170.3" r="5.8"/><circle cx="1532.3" cy="170.1" r="5.8"/><circle cx="1531.0" cy="171.6" r="5.8"/><circle cx="1534.8" cy="156.9" r="5.8"/><circle cx="1540.0" cy="159.8" r="5.8"/><circle cx="1548.1" cy="161.1" r="5.8"/><circle cx="1545.1" cy="164.6" r="5.8"/><circle cx="1543.0" cy="166.8" r="5.8"/><circle cx="1545.1" cy="166.1" r="5.8"/><circle cx="1542.6" cy="167.7" r="5.8"/><circle cx="1541.7" cy="172.6" r="5.8"/><circle cx="1541.3" cy="175.8" r="5.8"/><circle cx="1521.5" cy="184.9" r="5.8"/><circle cx="1555.9" cy="175.1" r="5.8"/><circle cx="1555.0" cy="169.3" r="5.8"/><circle cx="1557.2" cy="167.7" r="5.8"/><circle cx="1559.3" cy="165.1" r="5.8"/><circle cx="1558.9" cy="160.5" r="5.8"/><circle cx="1555.4" cy="162.6" r="5.8"/><circle cx="1564.0" cy="159.9" r="5.8"/><circle cx="1566.6" cy="159.7" r="5.8"/><circle cx="1563.6" cy="156.1" r="5.8"/><circle cx="1571.8" cy="155.7" r="5.8"/><circle cx="1569.6" cy="162.4" r="5.8"/><circle cx="1572.6" cy="163.0" r="5.8"/><circle cx="1578.2" cy="163.6" r="5.8"/><circle cx="1586.8" cy="154.3" r="5.8"/><circle cx="1588.1" cy="151.0" r="5.8"/><circle cx="1596.3" cy="142.2" r="5.8"/><circle cx="1598.0" cy="148.4" r="5.8"/><circle cx="1603.1" cy="149.1" r="5.8"/><circle cx="1600.1" cy="151.0" r="5.8"/><circle cx="1605.3" cy="149.3" r="5.8"/><circle cx="1600.1" cy="152.3" r="5.8"/><circle cx="1606.6" cy="151.9" r="5.8"/><circle cx="1613.0" cy="150.1" r="5.8"/><circle cx="1613.9" cy="147.5" r="5.8"/><circle cx="1618.2" cy="146.1" r="5.8"/><circle cx="1619.0" cy="147.6" r="5.8"/><circle cx="1620.3" cy="143.0" r="5.8"/><circle cx="1626.8" cy="140.9" r="5.8"/><circle cx="1635.3" cy="138.1" r="5.8"/><circle cx="1622.0" cy="133.0" r="5.8"/><circle cx="1629.3" cy="133.4" r="5.8"/><circle cx="1642.6" cy="131.0" r="5.8"/><circle cx="1643.1" cy="134.3" r="5.8"/><circle cx="1651.7" cy="127.8" r="5.8"/><circle cx="1652.1" cy="134.0" r="5.8"/><circle cx="1643.9" cy="138.9" r="5.8"/><circle cx="1639.6" cy="142.8" r="5.8"/><circle cx="1633.6" cy="147.6" r="5.8"/><circle cx="1645.7" cy="144.6" r="5.8"/><circle cx="1655.1" cy="138.3" r="5.8"/><circle cx="1623.7" cy="154.0" r="5.8"/><circle cx="1636.2" cy="151.1" r="5.8"/><circle cx="1651.7" cy="147.0" r="5.8"/><circle cx="1663.7" cy="123.0" r="5.8"/><circle cx="1675.3" cy="117.9" r="5.8"/><circle cx="1691.2" cy="114.9" r="5.8"/><circle cx="1671.0" cy="126.7" r="5.8"/><circle cx="1668.8" cy="129.4" r="5.8"/><circle cx="1674.9" cy="127.9" r="5.8"/><circle cx="1668.8" cy="130.9" r="5.8"/><circle cx="1685.6" cy="122.2" r="5.8"/><circle cx="1685.6" cy="122.7" r="5.8"/><circle cx="1686.0" cy="123.2" r="5.8"/><circle cx="1692.0" cy="123.3" r="5.8"/><circle cx="1683.5" cy="130.5" r="5.8"/><circle cx="1669.3" cy="139.4" r="5.8"/><circle cx="1702.8" cy="126.5" r="5.8"/><circle cx="1713.1" cy="121.8" r="5.8"/><circle cx="1713.1" cy="114.1" r="5.8"/><circle cx="1717.4" cy="111.2" r="5.8"/><circle cx="1727.7" cy="107.2" r="5.8"/><circle cx="1733.3" cy="106.3" r="5.8"/><circle cx="1741.4" cy="109.1" r="5.8"/><circle cx="1732.4" cy="114.7" r="5.8"/><circle cx="1750.9" cy="105.6" r="5.8"/><circle cx="1759.9" cy="107.2" r="5.8"/><circle cx="1755.2" cy="111.0" r="5.8"/><circle cx="1777.1" cy="90.8" r="5.8"/><circle cx="1784.8" cy="98.4" r="5.8"/><circle cx="1689.9" cy="141.5" r="5.8"/></g>

<path d="M390.6,468.0V470.6M566.7,425.0V427.0M682.6,397.5V399.5M779.3,372.6V375.5M857.5,353.7V356.9M925.3,329.7V334.7M1055.9,293.6V304.4M1170.2,268.0V271.7M1259.9,243.9V246.9M1306.8,233.3V236.3M1347.6,222.4V224.7M1406.4,205.9V208.6M1451.5,192.1V193.7M1211.4,256.0V262.2M1508.6,175.7V177.9M1564.5,160.4V162.7M1636.2,139.7V142.1M1720.0,114.3V116.9" stroke="#000" stroke-width="5.6" fill="none"/><path d="M385.7,468.0H395.5M385.7,470.6H395.5M561.8,425.0H571.6M561.8,427.0H571.6M677.7,397.5H687.5M677.7,399.5H687.5M774.4,372.6H784.2M774.4,375.5H784.2M852.6,353.7H862.4M852.6,356.9H862.4M920.4,329.7H930.2M920.4,334.7H930.2M1051.0,293.6H1060.8M1051.0,304.4H1060.8M1165.3,268.0H1175.1M1165.3,271.7H1175.1M1255.0,243.9H1264.8M1255.0,246.9H1264.8M1301.9,233.3H1311.7M1301.9,236.3H1311.7M1342.7,222.4H1352.5M1342.7,224.7H1352.5M1401.5,205.9H1411.3M1401.5,208.6H1411.3M1446.6,192.1H1456.4M1446.6,193.7H1456.4M1206.5,256.0H1216.3M1206.5,262.2H1216.3M1503.7,175.7H1513.5M1503.7,177.9H1513.5M1559.6,160.4H1569.4M1559.6,162.7H1569.4M1631.3,139.7H1641.1M1631.3,142.1H1641.1M1715.1,114.3H1724.9M1715.1,116.9H1724.9" stroke="#000" stroke-width="2.8" fill="none"/>

</g>
<g clip-path="url(#cb)">
<path d="M205.3,753.2 L1842.3,753.2" stroke="#808080" stroke-width="2.4" fill="none" stroke-dasharray="8.9 3.8"/>
<path d="M185.0,756.4 L190.5,756.4 L196.1,756.5 L201.6,756.5 L207.2,756.6 L212.7,756.6 L218.3,756.7 L223.8,756.7 L229.3,756.8 L234.9,756.8 L240.4,756.9 L246.0,756.9 L251.5,757.0 L257.1,757.1 L262.6,757.1 L268.1,757.2 L273.7,757.3 L279.2,757.3 L284.8,757.4 L290.3,757.4 L295.9,757.5 L301.4,757.6 L306.9,757.6 L312.5,757.7 L318.0,757.8 L323.6,757.9 L329.1,757.9 L334.7,758.0 L340.2,758.1 L345.7,758.2 L351.3,758.2 L356.8,758.3 L362.4,758.4 L367.9,758.5 L373.5,758.6 L379.0,758.6 L384.5,758.7 L390.1,758.8 L395.6,758.9 L401.2,759.0 L406.7,759.1 L412.3,759.2 L417.8,759.3 L423.3,759.4 L428.9,759.5 L434.4,759.6 L440.0,759.7 L445.5,759.8 L451.1,759.9 L456.6,760.0 L462.1,760.1 L467.7,760.2 L473.2,760.3 L478.8,760.4 L484.3,760.5 L489.9,760.6 L495.4,760.7 L500.9,760.8 L506.5,761.0 L512.0,761.1 L517.6,761.2 L523.1,761.3 L528.7,761.5 L534.2,761.6 L539.7,761.7 L545.3,761.8 L550.8,762.0 L556.4,762.1 L561.9,762.3 L567.5,762.4 L573.0,762.5 L578.5,762.7 L584.1,762.8 L589.6,763.0 L595.2,763.1 L600.7,763.3 L606.3,763.4 L611.8,763.6 L617.3,763.8 L622.9,763.9 L628.4,764.1 L634.0,764.3 L639.5,764.4 L645.1,764.6 L650.6,764.8 L656.1,764.9 L661.7,765.1 L667.2,765.3 L672.8,765.5 L678.3,765.7 L683.9,765.9 L689.4,766.1 L694.9,766.3 L700.5,766.5 L706.0,766.7 L711.6,766.9 L717.1,767.1 L722.7,767.3 L728.2,767.5 L733.7,767.7 L739.3,767.9 L744.8,768.2 L750.4,768.4 L755.9,768.6 L761.5,768.9 L767.0,769.1 L772.5,769.3 L778.1,769.6 L783.6,769.8 L789.2,770.1 L794.7,770.3 L800.3,770.6 L805.8,770.8 L811.3,771.1 L816.9,771.4 L822.4,771.7 L828.0,771.9 L833.5,772.2 L839.1,772.5 L844.6,772.8 L850.1,773.1 L855.7,773.4 L861.2,773.7 L866.8,774.0 L872.3,774.3 L877.9,774.6 L883.4,774.9 L888.9,775.2 L894.5,775.5 L900.0,775.9 L905.6,776.2 L911.1,776.5 L916.7,776.9 L922.2,777.2 L927.7,777.6 L933.3,777.9 L938.8,778.3 L944.4,778.7 L949.9,779.0 L955.5,779.4 L961.0,779.8 L966.5,780.2 L972.1,780.6 L977.6,781.0 L983.2,781.4 L988.7,781.8 L994.3,782.2 L999.8,782.6 L1005.3,783.0 L1010.9,783.4 L1016.4,783.9 L1022.0,784.3 L1027.5,784.7 L1033.1,785.2 L1038.6,785.6 L1044.1,786.1 L1049.7,786.5 L1055.2,787.0 L1060.8,787.5 L1066.3,788.0 L1071.9,788.4 L1077.4,788.9 L1082.9,789.4 L1088.5,789.9 L1094.0,790.4 L1099.6,790.9 L1105.1,791.5 L1110.7,792.0 L1116.2,792.5 L1121.7,793.0 L1127.3,793.6 L1132.8,794.1 L1138.4,794.7 L1143.9,795.2 L1149.5,795.8 L1155.0,796.4 L1160.5,796.9 L1166.1,797.5 L1171.6,798.1 L1177.2,798.7 L1182.7,799.3 L1188.3,799.9 L1193.8,800.5 L1199.3,801.1 L1204.9,801.7 L1210.4,802.4 L1216.0,803.0 L1221.5,803.6 L1227.1,804.3 L1232.6,804.9 L1238.1,805.6 L1243.7,806.2 L1249.2,806.9 L1254.8,807.6 L1260.3,808.3 L1265.9,808.9 L1271.4,809.6 L1276.9,810.3 L1282.5,811.0 L1288.0,811.7 L1293.6,812.4 L1299.1,813.1 L1304.6,813.9 L1310.2,814.6 L1315.7,815.3 L1321.3,816.0 L1326.8,816.8 L1332.4,817.5 L1337.9,818.2 L1343.4,819.0 L1349.0,819.7 L1354.5,820.5 L1360.1,821.3 L1365.6,822.0 L1371.2,822.8 L1376.7,823.6 L1382.2,824.3 L1387.8,825.1 L1393.3,825.9 L1398.9,826.7 L1404.4,827.5 L1410.0,828.2 L1415.5,829.0 L1421.0,829.8 L1426.6,830.6 L1432.1,831.4 L1437.7,832.2 L1443.2,833.0 L1448.8,833.8 L1454.3,834.6 L1459.8,835.4 L1465.4,836.2 L1470.9,837.0 L1476.5,837.8 L1482.0,838.6 L1487.6,839.4 L1493.1,840.2 L1498.6,840.9 L1504.2,841.7 L1509.7,842.5 L1515.3,843.3 L1520.8,844.1 L1526.4,844.9 L1531.9,845.6 L1537.4,846.4 L1543.0,847.2 L1548.5,847.9 L1554.1,848.7 L1559.6,849.4 L1565.2,850.2 L1570.7,850.9 L1576.2,851.7 L1581.8,852.4 L1587.3,853.1 L1592.9,853.8 L1598.4,854.5 L1604.0,855.2 L1609.5,855.9 L1615.0,856.6 L1620.6,857.2 L1626.1,857.9 L1631.7,858.5 L1637.2,859.1 L1642.8,859.8 L1648.3,860.4 L1653.8,861.0 L1659.4,861.5 L1664.9,862.1 L1670.5,862.7 L1676.0,863.2 L1681.6,863.7 L1687.1,864.2 L1692.6,864.7 L1698.2,865.2 L1703.7,865.6 L1709.3,866.0 L1714.8,866.5 L1720.4,866.9 L1725.9,867.2 L1731.4,867.6 L1737.0,867.9 L1742.5,868.2 L1748.1,868.5 L1753.6,868.8 L1759.2,869.0 L1764.7,869.3 L1770.2,869.5 L1775.8,869.6 L1781.3,869.8 L1786.9,869.9 L1792.4,870.0 L1798.0,870.1 L1803.5,870.1 L1809.0,870.1 L1814.6,870.1 L1820.1,870.1 L1825.7,870.0 L1831.2,869.9 L1836.8,869.8 L1842.3,869.6" stroke="#008000" stroke-width="2.4" fill="none" stroke-dasharray="2.4 3.96"/>
<path d="M185.0,758.1 L190.5,758.1 L196.1,758.2 L201.6,758.3 L207.2,758.4 L212.7,758.5 L218.3,758.5 L223.8,758.6 L229.3,758.7 L234.9,758.8 L240.4,758.9 L246.0,759.0 L251.5,759.1 L257.1,759.2 L262.6,759.3 L268.1,759.4 L273.7,759.4 L279.2,759.5 L284.8,759.6 L290.3,759.8 L295.9,759.9 L301.4,760.0 L306.9,760.1 L312.5,760.2 L318.0,760.3 L323.6,760.4 L329.1,760.5 L334.7,760.6 L340.2,760.7 L345.7,760.9 L351.3,761.0 L356.8,761.1 L362.4,761.2 L367.9,761.4 L373.5,761.5 L379.0,761.6 L384.5,761.8 L390.1,761.9 L395.6,762.0 L401.2,762.2 L406.7,762.3 L412.3,762.4 L417.8,762.6 L423.3,762.7 L428.9,762.9 L434.4,763.0 L440.0,763.2 L445.5,763.4 L451.1,763.5 L456.6,763.7 L462.1,763.8 L467.7,764.0 L473.2,764.2 L478.8,764.4 L484.3,764.5 L489.9,764.7 L495.4,764.9 L500.9,765.1 L506.5,765.3 L512.0,765.4 L517.6,765.6 L523.1,765.8 L528.7,766.0 L534.2,766.2 L539.7,766.4 L545.3,766.7 L550.8,766.9 L556.4,767.1 L561.9,767.3 L567.5,767.5 L573.0,767.7 L578.5,768.0 L584.1,768.2 L589.6,768.4 L595.2,768.7 L600.7,768.9 L606.3,769.2 L611.8,769.4 L617.3,769.7 L622.9,769.9 L628.4,770.2 L634.0,770.4 L639.5,770.7 L645.1,771.0 L650.6,771.3 L656.1,771.6 L661.7,771.8 L667.2,772.1 L672.8,772.4 L678.3,772.7 L683.9,773.0 L689.4,773.3 L694.9,773.6 L700.5,774.0 L706.0,774.3 L711.6,774.6 L717.1,775.0 L722.7,775.3 L728.2,775.6 L733.7,776.0 L739.3,776.3 L744.8,776.7 L750.4,777.1 L755.9,777.4 L761.5,777.8 L767.0,778.2 L772.5,778.6 L778.1,779.0 L783.6,779.4 L789.2,779.8 L794.7,780.2 L800.3,780.6 L805.8,781.0 L811.3,781.4 L816.9,781.9 L822.4,782.3 L828.0,782.8 L833.5,783.2 L839.1,783.7 L844.6,784.1 L850.1,784.6 L855.7,785.1 L861.2,785.6 L866.8,786.1 L872.3,786.6 L877.9,787.1 L883.4,787.6 L888.9,788.1 L894.5,788.7 L900.0,789.2 L905.6,789.7 L911.1,790.3 L916.7,790.9 L922.2,791.4 L927.7,792.0 L933.3,792.6 L938.8,793.2 L944.4,793.8 L949.9,794.4 L955.5,795.0 L961.0,795.7 L966.5,796.3 L972.1,796.9 L977.6,797.6 L983.2,798.3 L988.7,798.9 L994.3,799.6 L999.8,800.3 L1005.3,801.0 L1010.9,801.7 L1016.4,802.5 L1022.0,803.2 L1027.5,803.9 L1033.1,804.7 L1038.6,805.4 L1044.1,806.2 L1049.7,807.0 L1055.2,807.8 L1060.8,808.6 L1066.3,809.4 L1071.9,810.2 L1077.4,811.1 L1082.9,811.9 L1088.5,812.8 L1094.0,813.7 L1099.6,814.6 L1105.1,815.4 L1110.7,816.4 L1116.2,817.3 L1121.7,818.2 L1127.3,819.1 L1132.8,820.1 L1138.4,821.1 L1143.9,822.0 L1149.5,823.0 L1155.0,824.0 L1160.5,825.0 L1166.1,826.1 L1171.6,827.1 L1177.2,828.2 L1182.7,829.2 L1188.3,830.3 L1193.8,831.4 L1199.3,832.5 L1204.9,833.6 L1210.4,834.8 L1216.0,835.9 L1221.5,837.1 L1227.1,838.3 L1232.6,839.4 L1238.1,840.6 L1243.7,841.9 L1249.2,843.1 L1254.8,844.3 L1260.3,845.6 L1265.9,846.9 L1271.4,848.2 L1276.9,849.5 L1282.5,850.8 L1288.0,852.1 L1293.6,853.5 L1299.1,854.8 L1304.6,856.2 L1310.2,857.6 L1315.7,859.0 L1321.3,860.4 L1326.8,861.9 L1332.4,863.3 L1337.9,864.8 L1343.4,866.3 L1349.0,867.7 L1354.5,869.3 L1360.1,870.8 L1365.6,872.3 L1371.2,873.9 L1376.7,875.5 L1382.2,877.0 L1387.8,878.7 L1393.3,880.3 L1398.9,881.9 L1404.4,883.6 L1410.0,885.2 L1415.5,886.9 L1421.0,888.6 L1426.6,890.3 L1432.1,892.0 L1437.7,893.8 L1443.2,895.5 L1448.8,897.3 L1454.3,899.1 L1459.8,900.9 L1465.4,902.7 L1470.9,904.5 L1476.5,906.4 L1482.0,908.2 L1487.6,910.1 L1493.1,912.0 L1498.6,913.9 L1504.2,915.8 L1509.7,917.7 L1515.3,919.7 L1520.8,921.6 L1526.4,923.6 L1531.9,925.6 L1537.4,927.6 L1543.0,929.6 L1548.5,931.6 L1554.1,933.6 L1559.6,935.7 L1565.2,937.7 L1570.7,939.8 L1576.2,941.9 L1581.8,944.0 L1587.3,946.1 L1592.9,948.2 L1598.4,950.3 L1604.0,952.4 L1609.5,954.6 L1615.0,956.8 L1620.6,958.9 L1626.1,961.1 L1631.7,963.3 L1637.2,965.5 L1642.8,967.7 L1648.3,969.9 L1653.8,972.1 L1659.4,974.3 L1664.9,976.6 L1670.5,978.8 L1676.0,981.1 L1681.6,983.3 L1687.1,985.6 L1692.6,987.8 L1698.2,990.1 L1703.7,992.4 L1709.3,994.7 L1714.8,996.9 L1720.4,999.2 L1725.9,1001.5 L1731.4,1003.8 L1737.0,1006.1 L1742.5,1008.4 L1748.1,1010.7 L1753.6,1013.0 L1759.2,1015.3 L1764.7,1017.6 L1770.2,1019.9 L1775.8,1022.2 L1781.3,1024.5 L1786.9,1026.8 L1792.4,1029.1 L1798.0,1031.4 L1803.5,1033.7 L1809.0,1036.0 L1814.6,1038.3 L1820.1,1040.6 L1825.7,1042.9 L1831.2,1045.1 L1836.8,1047.4 L1842.3,1049.7" stroke="#0000ff" stroke-width="2.4" fill="none" stroke-dasharray="15.4 3.84 2.4 3.84"/>
<path d="M281.5,516.0V636.3M257.0,582.6V803.8M255.7,608.4V801.7M311.5,573.1V754.4M317.1,584.7V773.7M318.0,681.4V868.2M348.0,685.7V848.9M360.5,625.5V797.4M373.4,636.3V790.9M372.1,681.4V848.9M370.4,692.1V859.6M381.5,640.6V803.8M383.3,550.4V730.8M386.3,494.5V700.7M388.8,619.1V801.7M392.7,799.5V934.8M394.9,808.1V975.6M403.9,885.4V1052.9M403.9,507.4V670.6M421.9,520.3V687.8M421.9,640.6V797.4M419.8,640.6V773.7M409.9,640.6V831.7M426.6,707.2V874.7M432.2,735.1V896.2M426.6,748.0V915.5M440.4,726.5V870.4M473.0,628.5V778.0M479.9,705.0V872.5M491.1,674.1V833.9M496.7,636.3V773.7M493.7,748.0V897.0M509.6,752.3V897.4M517.7,720.0V870.4M513.0,451.6V610.5M459.7,387.1V563.3M417.2,408.6V574.0M525.0,597.6V743.7M614.3,451.6V584.7M594.6,523.7V657.8M560.7,522.4V748.0M531.0,657.8V799.5M548.6,657.8V790.9M548.6,670.6V812.4M572.3,619.1V756.5M581.3,619.1V769.4M598.0,619.1V748.0M591.6,659.9V790.9M614.3,604.1V739.4M602.3,666.3V812.4M581.3,679.2V816.7M557.2,683.5V829.6M568.4,687.8V812.4M536.6,748.0V898.3M545.2,748.0V889.7M555.1,756.5V902.6M555.9,765.1V932.7M553.8,795.2V937.0M562.4,795.2V930.5M572.3,739.4V885.4M603.2,696.4V842.5M601.5,735.1V874.7M610.1,739.4V881.1M619.9,709.3V859.6M626.4,709.3V842.5M619.9,773.7V924.1M616.1,838.2V986.4M632.8,773.7V915.5M638.4,636.3V782.3M640.5,543.9V683.5M647.4,548.2V687.8M646.6,657.8V799.5M641.0,679.2V825.3M656.4,614.8V756.5M660.7,627.7V765.1M662.5,601.9V743.7M656.4,713.6V859.6M654.7,730.8V874.7M645.3,743.7V894.0M662.5,748.0V889.7M668.0,748.0V894.0M672.3,735.1V876.8M653.0,782.3V934.8M678.4,769.4V941.3M668.9,692.1V838.2M686.5,627.7V765.1M690.8,593.3V730.8M695.1,516.0V687.8M693.4,687.8V838.2M701.1,679.2V816.7M692.5,748.0V887.6M716.2,621.2V756.5M728.6,629.8V756.5M719.6,696.4V846.8M714.0,730.8V872.5M715.3,739.4V872.5M725.2,735.1V872.5M734.2,709.3V825.3M744.5,709.3V829.6M740.6,717.9V859.6M764.3,634.1V748.0M770.7,696.4V816.7M789.6,591.2V722.2M796.9,662.0V812.4M795.2,709.3V842.5M779.7,717.9V868.2M779.7,735.1V881.1M779.3,808.1V952.0M824.4,629.8V773.7M821.4,662.0V795.2M837.3,726.5V868.2M833.4,872.5V1010.0M842.9,709.3V842.5M857.9,666.3V868.2M853.6,679.2V833.9M872.5,665.5V786.6M911.6,654.3V790.9M913.7,664.2V793.1M918.9,743.7V870.4M887.1,785.8V902.6M857.9,694.3V868.2" stroke="#ff9a00" stroke-opacity="0.7" stroke-width="2.0" fill="none"/>
<g fill="#ff9a00" fill-opacity="0.85" stroke="#ff9a00" stroke-opacity="0.85" stroke-width="1.6"><circle cx="281.5" cy="542.6" r="5.8"/><circle cx="257.0" cy="690.8" r="5.8"/><circle cx="255.7" cy="706.3" r="5.8"/><circle cx="311.5" cy="663.3" r="5.8"/><circle cx="317.1" cy="676.7" r="5.8"/><circle cx="318.0" cy="774.6" r="5.8"/><circle cx="348.0" cy="767.7" r="5.8"/><circle cx="360.5" cy="712.3" r="5.8"/><circle cx="373.4" cy="713.6" r="5.8"/><circle cx="372.1" cy="764.3" r="5.8"/><circle cx="370.4" cy="776.3" r="5.8"/><circle cx="381.5" cy="720.0" r="5.8"/><circle cx="383.3" cy="640.6" r="5.8"/><circle cx="386.3" cy="593.7" r="5.8"/><circle cx="388.8" cy="699.8" r="5.8"/><circle cx="392.7" cy="848.9" r="5.8"/><circle cx="394.9" cy="888.0" r="5.8"/><circle cx="403.9" cy="968.3" r="5.8"/><circle cx="403.9" cy="589.0" r="5.8"/><circle cx="421.9" cy="597.6" r="5.8"/><circle cx="421.9" cy="668.1" r="5.8"/><circle cx="419.8" cy="718.7" r="5.8"/><circle cx="409.9" cy="736.4" r="5.8"/><circle cx="426.6" cy="790.9" r="5.8"/><circle cx="432.2" cy="815.4" r="5.8"/><circle cx="426.6" cy="828.7" r="5.8"/><circle cx="440.4" cy="799.5" r="5.8"/><circle cx="473.0" cy="704.1" r="5.8"/><circle cx="479.9" cy="788.3" r="5.8"/><circle cx="491.1" cy="749.2" r="5.8"/><circle cx="496.7" cy="705.0" r="5.8"/><circle cx="493.7" cy="829.1" r="5.8"/><circle cx="509.6" cy="825.3" r="5.8"/><circle cx="517.7" cy="793.5" r="5.8"/><circle cx="513.0" cy="534.0" r="5.8"/><circle cx="459.7" cy="473.0" r="5.8"/><circle cx="417.2" cy="481.6" r="5.8"/><circle cx="525.0" cy="670.6" r="5.8"/><circle cx="614.3" cy="522.4" r="5.8"/><circle cx="594.6" cy="591.6" r="5.8"/><circle cx="560.7" cy="660.8" r="5.8"/><circle cx="531.0" cy="729.1" r="5.8"/><circle cx="548.6" cy="726.5" r="5.8"/><circle cx="548.6" cy="741.5" r="5.8"/><circle cx="572.3" cy="684.4" r="5.8"/><circle cx="581.3" cy="693.8" r="5.8"/><circle cx="598.0" cy="680.1" r="5.8"/><circle cx="591.6" cy="725.6" r="5.8"/><circle cx="614.3" cy="670.6" r="5.8"/><circle cx="602.3" cy="732.5" r="5.8"/><circle cx="581.3" cy="747.1" r="5.8"/><circle cx="557.2" cy="751.4" r="5.8"/><circle cx="568.4" cy="752.3" r="5.8"/><circle cx="536.6" cy="821.8" r="5.8"/><circle cx="545.2" cy="818.8" r="5.8"/><circle cx="555.1" cy="832.6" r="5.8"/><circle cx="555.9" cy="837.3" r="5.8"/><circle cx="553.8" cy="868.2" r="5.8"/><circle cx="562.4" cy="863.1" r="5.8"/><circle cx="572.3" cy="812.4" r="5.8"/><circle cx="603.2" cy="769.4" r="5.8"/><circle cx="601.5" cy="803.8" r="5.8"/><circle cx="610.1" cy="809.0" r="5.8"/><circle cx="619.9" cy="784.0" r="5.8"/><circle cx="626.4" cy="775.0" r="5.8"/><circle cx="619.9" cy="848.0" r="5.8"/><circle cx="616.1" cy="912.9" r="5.8"/><circle cx="632.8" cy="844.2" r="5.8"/><circle cx="638.4" cy="710.2" r="5.8"/><circle cx="640.5" cy="610.5" r="5.8"/><circle cx="647.4" cy="615.7" r="5.8"/><circle cx="646.6" cy="729.9" r="5.8"/><circle cx="641.0" cy="750.1" r="5.8"/><circle cx="656.4" cy="684.4" r="5.8"/><circle cx="660.7" cy="693.8" r="5.8"/><circle cx="662.5" cy="669.4" r="5.8"/><circle cx="656.4" cy="786.6" r="5.8"/><circle cx="654.7" cy="803.8" r="5.8"/><circle cx="645.3" cy="819.7" r="5.8"/><circle cx="662.5" cy="815.8" r="5.8"/><circle cx="668.0" cy="821.0" r="5.8"/><circle cx="672.3" cy="806.8" r="5.8"/><circle cx="653.0" cy="857.9" r="5.8"/><circle cx="678.4" cy="844.2" r="5.8"/><circle cx="668.9" cy="765.1" r="5.8"/><circle cx="686.5" cy="694.3" r="5.8"/><circle cx="690.8" cy="660.8" r="5.8"/><circle cx="695.1" cy="616.5" r="5.8"/><circle cx="693.4" cy="763.0" r="5.8"/><circle cx="701.1" cy="748.8" r="5.8"/><circle cx="692.5" cy="822.7" r="5.8"/><circle cx="716.2" cy="688.3" r="5.8"/><circle cx="728.6" cy="692.1" r="5.8"/><circle cx="719.6" cy="770.3" r="5.8"/><circle cx="714.0" cy="803.8" r="5.8"/><circle cx="715.3" cy="815.4" r="5.8"/><circle cx="725.2" cy="811.5" r="5.8"/><circle cx="734.2" cy="770.3" r="5.8"/><circle cx="744.5" cy="770.3" r="5.8"/><circle cx="740.6" cy="788.3" r="5.8"/><circle cx="764.3" cy="688.7" r="5.8"/><circle cx="770.7" cy="758.7" r="5.8"/><circle cx="789.6" cy="656.0" r="5.8"/><circle cx="796.9" cy="727.3" r="5.8"/><circle cx="795.2" cy="773.7" r="5.8"/><circle cx="779.7" cy="790.5" r="5.8"/><circle cx="779.7" cy="804.7" r="5.8"/><circle cx="779.3" cy="882.0" r="5.8"/><circle cx="824.4" cy="701.6" r="5.8"/><circle cx="821.4" cy="727.3" r="5.8"/><circle cx="837.3" cy="797.4" r="5.8"/><circle cx="833.4" cy="944.7" r="5.8"/><circle cx="842.9" cy="773.7" r="5.8"/><circle cx="857.9" cy="725.2" r="5.8"/><circle cx="853.6" cy="732.1" r="5.8"/><circle cx="872.5" cy="724.8" r="5.8"/><circle cx="911.6" cy="724.3" r="5.8"/><circle cx="913.7" cy="728.6" r="5.8"/><circle cx="918.9" cy="807.2" r="5.8"/><circle cx="887.1" cy="843.7" r="5.8"/><circle cx="857.9" cy="782.3" r="5.8"/></g>

<path d="M952.0,527.6V654.3M1055.5,665.5V808.1M1141.4,679.2V821.8M1161.6,613.9V735.1M1183.5,604.1V730.8M1173.6,640.6V773.7M1176.6,644.9V790.9M1193.4,668.5V846.8M1177.9,748.0V881.1M1179.2,756.5V885.4M1204.5,863.9V988.5M1230.7,812.4V934.8M1246.6,795.2V958.4M1254.3,516.0V638.4M1254.3,644.9V773.7M1250.1,670.6V790.9M1253.1,674.9V799.5M1245.8,705.0V842.5M1279.7,868.2V982.1M1275.4,636.3V825.3M1278.8,666.3V790.9M1275.4,696.4V825.3M1275.4,722.2V872.5M1295.2,717.9V855.3M1295.6,629.8V748.0M1302.0,640.6V769.4M1313.2,614.8V739.4M1311.0,662.0V782.3M1314.1,649.2V782.3M1306.8,713.6V842.5M1314.9,743.7V872.5M1324.4,748.0V876.8M1323.5,700.7V825.3M1328.7,674.9V808.1M1329.5,664.2V795.2M1338.1,666.3V790.9M1336.8,679.2V816.7M1334.2,700.7V825.3M1336.4,709.3V833.9M1338.5,713.6V842.5M1342.0,722.2V851.1M1332.5,735.1V859.6M1340.3,739.4V863.9M1333.8,782.3V911.2M1358.7,700.7V829.6M1358.7,760.8V885.4M1368.6,593.3V730.8M1372.5,666.3V799.5M1372.0,666.3V790.9M1372.9,717.9V842.5M1372.5,730.8V855.3M1381.9,833.9V982.1M1384.9,717.9V846.8M1390.9,730.8V855.3M1399.1,722.2V855.3M1396.5,578.3V696.4M1409.0,696.4V833.9M1412.0,696.4V821.0M1414.1,705.0V825.3M1409.8,717.9V851.1M1418.4,709.3V842.5M1426.2,735.1V863.9M1420.2,743.7V868.2M1427.9,782.3V911.2M1429.2,599.8V722.2M1427.9,679.2V812.4M1432.2,662.0V795.2M1433.5,644.9V773.7M1436.9,623.4V756.5M1439.9,649.2V778.0M1437.8,657.8V782.3M1436.9,683.5V803.8M1436.9,687.8V816.7M1444.6,632.0V760.8M1448.5,765.1V889.7M1435.2,829.6V962.7M1457.1,627.7V756.5M1455.4,662.0V790.9M1461.4,683.5V816.7M1464.4,713.6V842.5M1467.8,713.6V842.5M1461.4,730.8V855.3M1460.5,739.4V859.6M1464.8,748.0V876.8M1468.7,627.7V756.5M1471.7,610.5V743.7M1472.6,653.5V782.3M1465.7,662.0V790.9M1476.0,640.6V769.4M1476.9,593.3V722.2M1482.0,640.6V769.4M1477.3,705.0V833.9M1482.9,674.9V803.8M1483.7,752.3V881.1M1494.5,538.8V717.9M1495.7,593.3V730.8M1489.3,674.9V803.8M1504.3,644.9V773.7M1510.8,649.2V778.0M1515.1,653.5V782.3M1506.5,683.5V816.7M1507.3,696.4V825.3M1512.9,709.3V838.2M1519.4,709.3V838.2M1508.6,739.4V868.2M1493.6,748.0V876.8M1490.2,717.9V851.1M1495.7,722.2V855.3M1522.8,636.3V765.1M1528.0,623.4V756.5M1532.3,632.0V760.8M1530.1,657.8V790.9M1526.2,666.3V795.2M1532.3,683.5V816.7M1531.0,700.7V829.6M1534.8,516.0V644.9M1540.0,576.1V709.3M1548.1,627.7V756.5M1545.1,662.0V790.9M1543.0,679.2V816.7M1545.1,679.2V812.4M1542.6,696.4V821.0M1541.7,756.5V885.4M1541.3,799.5V928.4M1521.5,842.5V967.0M1555.9,846.8V975.6M1555.0,765.1V894.0M1557.2,748.0V876.8M1559.3,722.2V855.3M1558.9,662.0V790.9M1555.4,674.9V803.8M1564.0,674.9V803.8M1566.6,679.2V812.4M1563.6,619.1V752.3M1571.8,644.9V778.0M1569.6,730.8V859.6M1572.6,748.0V876.8M1578.2,782.3V911.2M1586.8,687.8V816.7M1588.1,649.2V778.0M1596.3,533.2V696.4M1598.0,649.2V782.3M1603.1,679.2V812.4M1600.1,696.4V825.3M1605.3,696.4V821.0M1600.1,713.6V842.5M1606.6,730.8V859.6M1613.0,730.8V863.9M1613.9,700.7V833.9M1618.2,700.7V829.6M1619.0,722.2V855.3M1620.3,666.3V799.5M1626.8,666.3V795.2M1635.3,662.0V790.9M1622.0,516.0V674.9M1629.3,576.1V705.0M1642.6,597.6V726.5M1643.1,640.6V773.7M1651.7,589.0V722.2M1652.1,670.6V803.8M1643.9,705.0V838.2M1639.6,739.4V872.5M1633.6,782.3V911.2M1645.7,790.9V919.8M1655.1,743.7V872.5M1623.7,829.6V958.4M1636.2,838.2V971.3M1651.7,846.8V984.2M1663.7,503.1V705.0M1675.3,516.0V683.5M1691.2,559.0V709.3M1671.0,649.2V782.3M1668.8,679.2V808.1M1674.9,683.5V812.4M1668.8,700.7V829.6M1685.6,649.2V778.0M1685.6,657.8V786.6M1686.0,666.3V795.2M1692.0,687.8V821.0M1683.5,752.3V881.1M1669.3,816.7V945.6M1702.8,778.0V911.2M1713.1,756.5V881.1M1713.1,649.2V782.3M1717.4,627.7V760.8M1727.7,614.8V748.0M1733.3,627.7V760.8M1741.4,696.4V829.6M1732.4,735.1V868.2M1750.9,687.8V821.0M1759.9,748.0V876.8M1755.2,782.3V939.1M1777.1,576.1V743.7M1784.8,730.8V859.6M1689.9,881.1V1095.9" stroke="#ff1a0a" stroke-opacity="0.45" stroke-width="2.0" fill="none"/>
<g fill="#ff1a0a" fill-opacity="0.58" stroke="#ff1a0a" stroke-opacity="0.58" stroke-width="1.6"><circle cx="952.0" cy="591.2" r="5.8"/><circle cx="1055.5" cy="736.4" r="5.8"/><circle cx="1141.4" cy="751.0" r="5.8"/><circle cx="1161.6" cy="674.1" r="5.8"/><circle cx="1183.5" cy="665.5" r="5.8"/><circle cx="1173.6" cy="709.3" r="5.8"/><circle cx="1176.6" cy="717.9" r="5.8"/><circle cx="1193.4" cy="757.8" r="5.8"/><circle cx="1177.9" cy="816.7" r="5.8"/><circle cx="1179.2" cy="824.4" r="5.8"/><circle cx="1204.5" cy="931.8" r="5.8"/><circle cx="1230.7" cy="873.8" r="5.8"/><circle cx="1246.6" cy="874.7" r="5.8"/><circle cx="1254.3" cy="577.0" r="5.8"/><circle cx="1254.3" cy="710.2" r="5.8"/><circle cx="1250.1" cy="725.6" r="5.8"/><circle cx="1253.1" cy="737.6" r="5.8"/><circle cx="1245.8" cy="773.7" r="5.8"/><circle cx="1279.7" cy="925.4" r="5.8"/><circle cx="1275.4" cy="737.2" r="5.8"/><circle cx="1278.8" cy="728.6" r="5.8"/><circle cx="1275.4" cy="760.8" r="5.8"/><circle cx="1275.4" cy="797.4" r="5.8"/><circle cx="1295.2" cy="790.1" r="5.8"/><circle cx="1295.6" cy="689.5" r="5.8"/><circle cx="1302.0" cy="701.6" r="5.8"/><circle cx="1313.2" cy="674.1" r="5.8"/><circle cx="1311.0" cy="721.3" r="5.8"/><circle cx="1314.1" cy="714.5" r="5.8"/><circle cx="1306.8" cy="778.0" r="5.8"/><circle cx="1314.9" cy="809.8" r="5.8"/><circle cx="1324.4" cy="813.3" r="5.8"/><circle cx="1323.5" cy="762.6" r="5.8"/><circle cx="1328.7" cy="741.5" r="5.8"/><circle cx="1329.5" cy="729.5" r="5.8"/><circle cx="1338.1" cy="725.2" r="5.8"/><circle cx="1336.8" cy="746.7" r="5.8"/><circle cx="1334.2" cy="762.1" r="5.8"/><circle cx="1336.4" cy="770.3" r="5.8"/><circle cx="1338.5" cy="778.0" r="5.8"/><circle cx="1342.0" cy="788.3" r="5.8"/><circle cx="1332.5" cy="797.4" r="5.8"/><circle cx="1340.3" cy="802.9" r="5.8"/><circle cx="1333.8" cy="847.6" r="5.8"/><circle cx="1358.7" cy="763.9" r="5.8"/><circle cx="1358.7" cy="826.1" r="5.8"/><circle cx="1368.6" cy="661.2" r="5.8"/><circle cx="1372.5" cy="732.9" r="5.8"/><circle cx="1372.0" cy="729.5" r="5.8"/><circle cx="1372.9" cy="780.2" r="5.8"/><circle cx="1372.5" cy="792.2" r="5.8"/><circle cx="1381.9" cy="891.9" r="5.8"/><circle cx="1384.9" cy="782.3" r="5.8"/><circle cx="1390.9" cy="792.6" r="5.8"/><circle cx="1399.1" cy="790.1" r="5.8"/><circle cx="1396.5" cy="636.7" r="5.8"/><circle cx="1409.0" cy="763.0" r="5.8"/><circle cx="1412.0" cy="758.7" r="5.8"/><circle cx="1414.1" cy="765.1" r="5.8"/><circle cx="1409.8" cy="784.5" r="5.8"/><circle cx="1418.4" cy="777.2" r="5.8"/><circle cx="1426.2" cy="799.5" r="5.8"/><circle cx="1420.2" cy="808.1" r="5.8"/><circle cx="1427.9" cy="844.6" r="5.8"/><circle cx="1429.2" cy="658.6" r="5.8"/><circle cx="1427.9" cy="747.1" r="5.8"/><circle cx="1432.2" cy="728.6" r="5.8"/><circle cx="1433.5" cy="708.4" r="5.8"/><circle cx="1436.9" cy="688.7" r="5.8"/><circle cx="1439.9" cy="715.7" r="5.8"/><circle cx="1437.8" cy="720.0" r="5.8"/><circle cx="1436.9" cy="739.4" r="5.8"/><circle cx="1436.9" cy="754.4" r="5.8"/><circle cx="1444.6" cy="695.6" r="5.8"/><circle cx="1448.5" cy="828.7" r="5.8"/><circle cx="1435.2" cy="892.3" r="5.8"/><circle cx="1457.1" cy="692.1" r="5.8"/><circle cx="1455.4" cy="726.5" r="5.8"/><circle cx="1461.4" cy="748.0" r="5.8"/><circle cx="1464.4" cy="778.0" r="5.8"/><circle cx="1467.8" cy="777.2" r="5.8"/><circle cx="1461.4" cy="792.6" r="5.8"/><circle cx="1460.5" cy="802.9" r="5.8"/><circle cx="1464.8" cy="811.5" r="5.8"/><circle cx="1468.7" cy="692.1" r="5.8"/><circle cx="1471.7" cy="677.1" r="5.8"/><circle cx="1472.6" cy="717.9" r="5.8"/><circle cx="1465.7" cy="724.3" r="5.8"/><circle cx="1476.0" cy="705.0" r="5.8"/><circle cx="1476.9" cy="656.5" r="5.8"/><circle cx="1482.0" cy="703.3" r="5.8"/><circle cx="1477.3" cy="768.1" r="5.8"/><circle cx="1482.9" cy="739.4" r="5.8"/><circle cx="1483.7" cy="815.4" r="5.8"/><circle cx="1494.5" cy="649.2" r="5.8"/><circle cx="1495.7" cy="662.9" r="5.8"/><circle cx="1489.3" cy="739.4" r="5.8"/><circle cx="1504.3" cy="708.0" r="5.8"/><circle cx="1510.8" cy="714.5" r="5.8"/><circle cx="1515.1" cy="717.9" r="5.8"/><circle cx="1506.5" cy="750.1" r="5.8"/><circle cx="1507.3" cy="760.0" r="5.8"/><circle cx="1512.9" cy="773.7" r="5.8"/><circle cx="1519.4" cy="772.4" r="5.8"/><circle cx="1508.6" cy="803.8" r="5.8"/><circle cx="1493.6" cy="812.4" r="5.8"/><circle cx="1490.2" cy="784.5" r="5.8"/><circle cx="1495.7" cy="787.5" r="5.8"/><circle cx="1522.8" cy="700.7" r="5.8"/><circle cx="1528.0" cy="690.0" r="5.8"/><circle cx="1532.3" cy="697.3" r="5.8"/><circle cx="1530.1" cy="723.0" r="5.8"/><circle cx="1526.2" cy="729.9" r="5.8"/><circle cx="1532.3" cy="750.1" r="5.8"/><circle cx="1531.0" cy="765.1" r="5.8"/><circle cx="1534.8" cy="584.3" r="5.8"/><circle cx="1540.0" cy="642.7" r="5.8"/><circle cx="1548.1" cy="692.1" r="5.8"/><circle cx="1545.1" cy="727.8" r="5.8"/><circle cx="1543.0" cy="748.0" r="5.8"/><circle cx="1545.1" cy="747.1" r="5.8"/><circle cx="1542.6" cy="758.7" r="5.8"/><circle cx="1541.7" cy="820.1" r="5.8"/><circle cx="1541.3" cy="862.2" r="5.8"/><circle cx="1521.5" cy="906.5" r="5.8"/><circle cx="1555.9" cy="909.0" r="5.8"/><circle cx="1555.0" cy="828.3" r="5.8"/><circle cx="1557.2" cy="815.4" r="5.8"/><circle cx="1559.3" cy="789.6" r="5.8"/><circle cx="1558.9" cy="726.5" r="5.8"/><circle cx="1555.4" cy="740.7" r="5.8"/><circle cx="1564.0" cy="738.5" r="5.8"/><circle cx="1566.6" cy="745.8" r="5.8"/><circle cx="1563.6" cy="685.7" r="5.8"/><circle cx="1571.8" cy="712.7" r="5.8"/><circle cx="1569.6" cy="793.1" r="5.8"/><circle cx="1572.6" cy="812.4" r="5.8"/><circle cx="1578.2" cy="843.3" r="5.8"/><circle cx="1586.8" cy="752.3" r="5.8"/><circle cx="1588.1" cy="713.6" r="5.8"/><circle cx="1596.3" cy="627.7" r="5.8"/><circle cx="1598.0" cy="717.0" r="5.8"/><circle cx="1603.1" cy="747.1" r="5.8"/><circle cx="1600.1" cy="760.0" r="5.8"/><circle cx="1605.3" cy="758.7" r="5.8"/><circle cx="1600.1" cy="778.0" r="5.8"/><circle cx="1606.6" cy="798.2" r="5.8"/><circle cx="1613.0" cy="798.6" r="5.8"/><circle cx="1613.9" cy="768.6" r="5.8"/><circle cx="1618.2" cy="766.0" r="5.8"/><circle cx="1619.0" cy="789.2" r="5.8"/><circle cx="1620.3" cy="733.8" r="5.8"/><circle cx="1626.8" cy="730.8" r="5.8"/><circle cx="1635.3" cy="727.3" r="5.8"/><circle cx="1622.0" cy="606.2" r="5.8"/><circle cx="1629.3" cy="640.6" r="5.8"/><circle cx="1642.6" cy="662.0" r="5.8"/><circle cx="1643.1" cy="706.7" r="5.8"/><circle cx="1651.7" cy="654.3" r="5.8"/><circle cx="1652.1" cy="738.5" r="5.8"/><circle cx="1643.9" cy="771.6" r="5.8"/><circle cx="1639.6" cy="806.8" r="5.8"/><circle cx="1633.6" cy="847.6" r="5.8"/><circle cx="1645.7" cy="854.9" r="5.8"/><circle cx="1655.1" cy="808.5" r="5.8"/><circle cx="1623.7" cy="894.0" r="5.8"/><circle cx="1636.2" cy="904.3" r="5.8"/><circle cx="1651.7" cy="911.2" r="5.8"/><circle cx="1663.7" cy="638.0" r="5.8"/><circle cx="1675.3" cy="616.9" r="5.8"/><circle cx="1691.2" cy="639.3" r="5.8"/><circle cx="1671.0" cy="717.0" r="5.8"/><circle cx="1668.8" cy="743.7" r="5.8"/><circle cx="1674.9" cy="748.0" r="5.8"/><circle cx="1668.8" cy="764.3" r="5.8"/><circle cx="1685.6" cy="714.0" r="5.8"/><circle cx="1685.6" cy="721.3" r="5.8"/><circle cx="1686.0" cy="729.9" r="5.8"/><circle cx="1692.0" cy="754.8" r="5.8"/><circle cx="1683.5" cy="816.7" r="5.8"/><circle cx="1669.3" cy="879.0" r="5.8"/><circle cx="1702.8" cy="841.2" r="5.8"/><circle cx="1713.1" cy="818.8" r="5.8"/><circle cx="1713.1" cy="717.0" r="5.8"/><circle cx="1717.4" cy="694.7" r="5.8"/><circle cx="1727.7" cy="682.2" r="5.8"/><circle cx="1733.3" cy="693.4" r="5.8"/><circle cx="1741.4" cy="763.0" r="5.8"/><circle cx="1732.4" cy="802.1" r="5.8"/><circle cx="1750.9" cy="754.4" r="5.8"/><circle cx="1759.9" cy="811.5" r="5.8"/><circle cx="1755.2" cy="843.7" r="5.8"/><circle cx="1777.1" cy="662.0" r="5.8"/><circle cx="1784.8" cy="795.6" r="5.8"/><circle cx="1689.9" cy="988.5" r="5.8"/></g>

<path d="M390.6,709.3V743.7M566.7,723.5V750.1M682.6,748.0V773.7M779.3,743.7V781.5M857.5,757.8V800.8M925.3,671.9V738.1M1061.9,665.5V810.2M1170.2,708.4V757.4M1259.9,711.4V751.0M1306.8,742.4V781.5M1347.6,748.0V778.0M1406.4,747.1V783.2M1451.5,734.2V755.3M1211.4,824.0V905.6M1508.6,733.8V763.9M1564.5,746.7V776.7M1636.2,752.3V784.5M1720.0,747.1V781.5" stroke="#000" stroke-width="5.6" fill="none"/><path d="M385.7,709.3H395.5M385.7,743.7H395.5M561.8,723.5H571.6M561.8,750.1H571.6M677.7,748.0H687.5M677.7,773.7H687.5M774.4,743.7H784.2M774.4,781.5H784.2M852.6,757.8H862.4M852.6,800.8H862.4M920.4,671.9H930.2M920.4,738.1H930.2M1057.0,665.5H1066.8M1057.0,810.2H1066.8M1165.3,708.4H1175.1M1165.3,757.4H1175.1M1255.0,711.4H1264.8M1255.0,751.0H1264.8M1301.9,742.4H1311.7M1301.9,781.5H1311.7M1342.7,748.0H1352.5M1342.7,778.0H1352.5M1401.5,747.1H1411.3M1401.5,783.2H1411.3M1446.6,734.2H1456.4M1446.6,755.3H1456.4M1206.5,824.0H1216.3M1206.5,905.6H1216.3M1503.7,733.8H1513.5M1503.7,763.9H1513.5M1559.6,746.7H1569.4M1559.6,776.7H1569.4M1631.3,752.3H1641.1M1631.3,784.5H1641.1M1715.1,747.1H1724.9M1715.1,781.5H1724.9" stroke="#000" stroke-width="2.8" fill="none"/>

</g>
<rect x="205.3" y="41.5" width="1637.0" height="949.0" fill="none" stroke="#1a1a1a" stroke-width="2.2"/>
<path d="M205.3,516.0H1842.3" stroke="#1a1a1a" stroke-width="2.2"/>
<path d="M196.3,41.5H205.3M196.3,140.4H205.3M196.3,239.2H205.3M196.3,338.1H205.3M196.3,436.9H205.3M196.3,542.4H205.3M196.3,647.8H205.3M196.3,753.2H205.3M196.3,858.7H205.3M196.3,964.1H205.3M241.5,990.5V999.0M1041.9,990.5V999.0M1842.3,990.5V999.0M204.9,990.5V995.0M482.4,990.5V995.0M623.4,990.5V995.0M723.4,990.5V995.0M801.0,990.5V995.0M864.3,990.5V995.0M917.9,990.5V995.0M964.3,990.5V995.0M1005.3,990.5V995.0M1282.8,990.5V995.0M1423.8,990.5V995.0M1523.8,990.5V995.0M1601.4,990.5V995.0M1664.7,990.5V995.0M1718.3,990.5V995.0M1764.7,990.5V995.0M1805.7,990.5V995.0" stroke="#1a1a1a" stroke-width="2.2" fill="none"/>
<text x="184.6" y="58.7" font-size="51" text-anchor="end" font-family="Liberation Serif" fill="#000"  textLength="94" lengthAdjust="spacingAndGlyphs">45.0</text>
<text x="184.6" y="157.6" font-size="51" text-anchor="end" font-family="Liberation Serif" fill="#000"  textLength="94" lengthAdjust="spacingAndGlyphs">42.5</text>
<text x="184.6" y="256.4" font-size="51" text-anchor="end" font-family="Liberation Serif" fill="#000"  textLength="94" lengthAdjust="spacingAndGlyphs">40.0</text>
<text x="184.6" y="355.3" font-size="51" text-anchor="end" font-family="Liberation Serif" fill="#000"  textLength="94" lengthAdjust="spacingAndGlyphs">37.5</text>
<text x="184.6" y="454.1" font-size="51" text-anchor="end" font-family="Liberation Serif" fill="#000"  textLength="94" lengthAdjust="spacingAndGlyphs">35.0</text>
<text x="185.0" y="559.6" font-size="51" text-anchor="end" font-family="Liberation Serif" fill="#000"  textLength="67" lengthAdjust="spacingAndGlyphs">0.4</text>
<text x="185.0" y="665.0" font-size="51" text-anchor="end" font-family="Liberation Serif" fill="#000"  textLength="67" lengthAdjust="spacingAndGlyphs">0.2</text>
<text x="185.0" y="770.5" font-size="51" text-anchor="end" font-family="Liberation Serif" fill="#000"  textLength="67" lengthAdjust="spacingAndGlyphs">0.0</text>
<text x="185.0" y="875.9" font-size="51" text-anchor="end" font-family="Liberation Serif" fill="#000"  textLength="102" lengthAdjust="spacingAndGlyphs">−0.2</text>
<text x="185.0" y="981.3" font-size="51" text-anchor="end" font-family="Liberation Serif" fill="#000"  textLength="102" lengthAdjust="spacingAndGlyphs">−0.4</text>
<text x="241.5" y="1041.6" font-size="51" text-anchor="middle" font-family="Liberation Serif" fill="#000"  textLength="93" lengthAdjust="spacingAndGlyphs">0.01</text>
<text x="1041.9" y="1041.6" font-size="51" text-anchor="middle" font-family="Liberation Serif" fill="#000"  textLength="93" lengthAdjust="spacingAndGlyphs">0.10</text>
<text x="1842.3" y="1041.6" font-size="51" text-anchor="middle" font-family="Liberation Serif" fill="#000"  textLength="93" lengthAdjust="spacingAndGlyphs">1.00</text>
<text x="1024.0" y="1093.3" font-size="47" text-anchor="middle" font-family="Liberation Serif" fill="#000"  textLength="183" lengthAdjust="spacingAndGlyphs">Redshift</text>
<g transform="translate(68.8,510) rotate(-90)"><text x="0.0" y="0.0" font-size="47" text-anchor="start" font-family="Liberation Serif" fill="#000"  textLength="409" lengthAdjust="spacingAndGlyphs">Distance modulus,</text><text x="439.0" y="0.0" font-size="52" text-anchor="start" font-family="Liberation Serif" fill="#000" ><tspan font-style="italic">μ</tspan></text></g>
<g transform="translate(61.5,862.6) rotate(-90)"><text x="-4.0" y="-1.5" font-size="53" text-anchor="start" font-family="Liberation Serif" fill="#000" ><tspan font-style="italic">μ</tspan></text><text x="35.0" y="0.0" font-size="49" text-anchor="start" font-family="Liberation Serif" fill="#000"  textLength="192" lengthAdjust="spacingAndGlyphs">Residual</text></g>
<path d="M288.9,77.5V121.3" stroke="#ff1a0a" stroke-opacity="0.45" stroke-width="2.0"/>
<circle cx="288.9" cy="99" r="5.8" fill="#ff1a0a" fill-opacity="0.58" stroke="#ff1a0a" stroke-opacity="0.58" stroke-width="1.6"/>
<path d="M288.9,142V185.5" stroke="#ff9a00" stroke-opacity="0.7" stroke-width="2.0"/>
<circle cx="288.9" cy="163.7" r="5.8" fill="#ff9a00" fill-opacity="0.85" stroke="#ff9a00" stroke-opacity="0.85" stroke-width="1.6"/>
<path d="M288.7,206.8V250.3" stroke="#000" stroke-width="5"/><path d="M283.8,206.8H293.6M283.8,250.3H293.6" stroke="#000" stroke-width="2.8"/>
<text x="369.5" y="115.1" font-size="49.5" text-anchor="start" font-family="Liberation Serif" fill="#000"  textLength="93" lengthAdjust="spacingAndGlyphs">DES</text>
<text x="369.5" y="179.6" font-size="49.5" text-anchor="start" font-family="Liberation Serif" fill="#000"  textLength="115" lengthAdjust="spacingAndGlyphs">low-<tspan font-style="italic">z</tspan></text>
<text x="369.5" y="244.0" font-size="49.5" text-anchor="start" font-family="Liberation Serif" fill="#000"  textLength="150" lengthAdjust="spacingAndGlyphs">binned</text>
<text x="1823.0" y="352.8" font-size="46" text-anchor="end" font-family="Liberation Serif" fill="#000"  textLength="223" lengthAdjust="spacingAndGlyphs">(Ω<tspan font-style="italic" font-size="32" dy="7">M</tspan><tspan dy="-7">, Ω</tspan><tspan font-size="32" dy="7">Λ</tspan><tspan dy="-7">, </tspan><tspan font-style="italic">w</tspan>)</text>
<text x="1821.4" y="400.8" font-size="46" text-anchor="end" font-family="Liberation Serif" fill="#808080" textLength="400" lengthAdjust="spacingAndGlyphs">(0.321,0.679,-0.978)</text>
<text x="1821.4" y="448.5" font-size="46" text-anchor="end" font-family="Liberation Serif" fill="#008000"  textLength="187" lengthAdjust="spacingAndGlyphs">(0.3, 0, 0)</text>
<text x="1821.4" y="495.8" font-size="46" text-anchor="end" font-family="Liberation Serif" fill="#0000ff"  textLength="187" lengthAdjust="spacingAndGlyphs">(1.0, 0, 0)</text>
</svg>
</body></html>
